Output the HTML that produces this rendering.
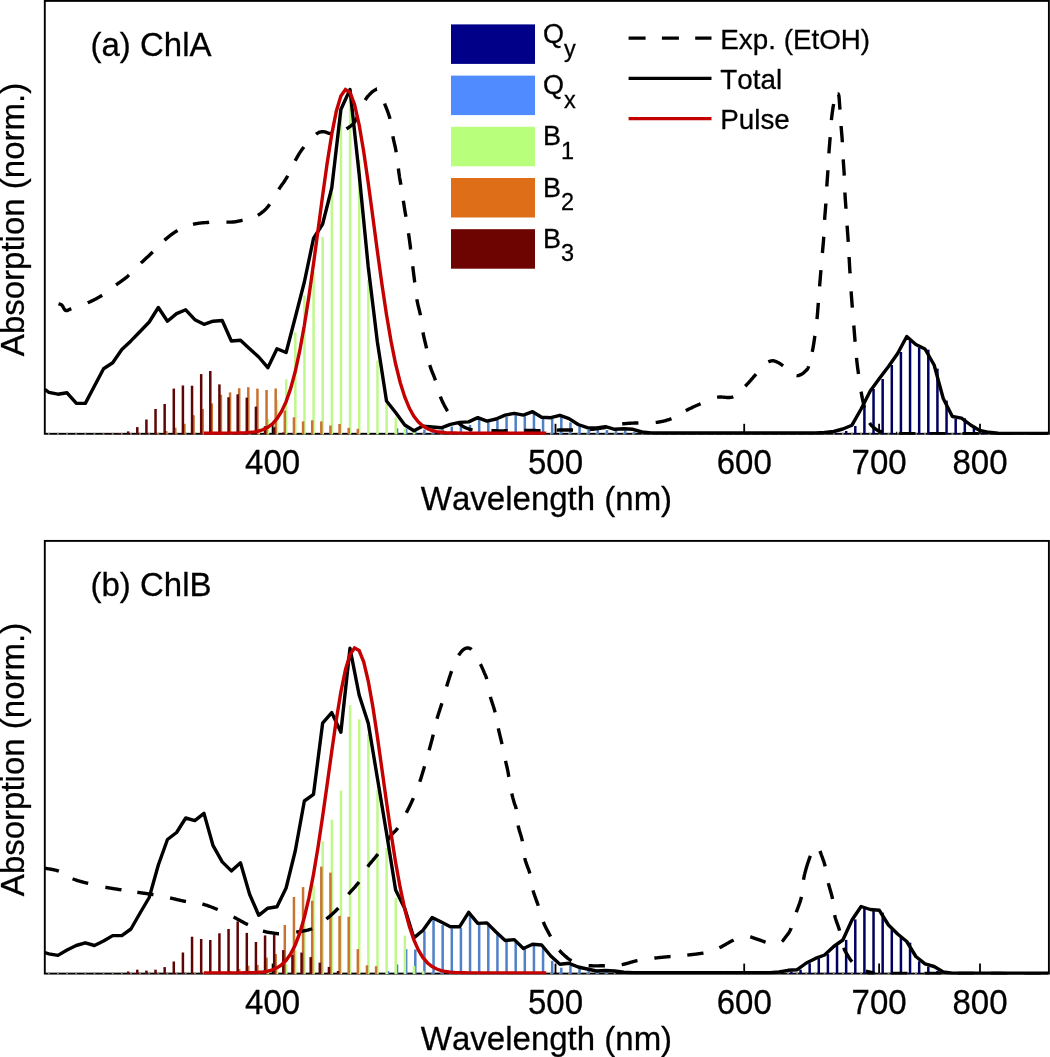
<!DOCTYPE html>
<html><head><meta charset="utf-8"><style>
html,body{margin:0;padding:0;background:#fff;}
svg{display:block;}
text{font-family:"Liberation Sans",sans-serif;fill:#000;font-kerning:none;stroke:#000;stroke-width:0.28px;}
svg{will-change:transform;}
</style></head><body>
<svg width="1050" height="1057" viewBox="0 0 1050 1057">
<defs><filter id="soft" x="0" y="0" width="1050" height="1057" filterUnits="userSpaceOnUse"><feGaussianBlur stdDeviation="0"/></filter></defs>
<rect width="1050" height="1057" fill="#fff"/>
<g>
<clipPath id="c0"><rect x="44.8" y="0.9" width="1003.2" height="433.9"/></clipPath>
<rect x="44.8" y="0.9" width="1004.1" height="432.9" fill="none" stroke="#000" stroke-width="1.9"/>
<g fill="#8a8478"><rect x="47.91" y="432.8" width="1.8" height="2"/><rect x="57.04" y="432.8" width="1.8" height="2"/><rect x="66.16" y="432.8" width="1.8" height="2"/><rect x="75.29" y="432.8" width="1.8" height="2"/><rect x="84.42" y="432.8" width="1.8" height="2"/><rect x="93.54" y="432.8" width="1.8" height="2"/><rect x="102.67" y="432.8" width="1.8" height="2"/><rect x="111.8" y="432.8" width="1.8" height="2"/><rect x="120.92" y="432.8" width="1.8" height="2"/><rect x="130.05" y="432.8" width="1.8" height="2"/><rect x="139.18" y="432.8" width="1.8" height="2"/><rect x="148.31" y="432.8" width="1.8" height="2"/><rect x="157.43" y="432.8" width="1.8" height="2"/><rect x="166.56" y="432.8" width="1.8" height="2"/><rect x="175.69" y="432.8" width="1.8" height="2"/><rect x="184.81" y="432.8" width="1.8" height="2"/><rect x="193.94" y="432.8" width="1.8" height="2"/><rect x="203.07" y="432.8" width="1.8" height="2"/><rect x="212.19" y="432.8" width="1.8" height="2"/><rect x="221.32" y="432.8" width="1.8" height="2"/><rect x="230.45" y="432.8" width="1.8" height="2"/><rect x="239.58" y="432.8" width="1.8" height="2"/><rect x="248.7" y="432.8" width="1.8" height="2"/><rect x="257.83" y="432.8" width="1.8" height="2"/><rect x="266.96" y="432.8" width="1.8" height="2"/><rect x="276.08" y="432.8" width="1.8" height="2"/><rect x="285.21" y="432.8" width="1.8" height="2"/><rect x="294.34" y="432.8" width="1.8" height="2"/><rect x="303.46" y="432.8" width="1.8" height="2"/><rect x="312.59" y="432.8" width="1.8" height="2"/><rect x="321.72" y="432.8" width="1.8" height="2"/><rect x="330.85" y="432.8" width="1.8" height="2"/><rect x="339.97" y="432.8" width="1.8" height="2"/><rect x="349.1" y="432.8" width="1.8" height="2"/><rect x="358.23" y="432.8" width="1.8" height="2"/><rect x="367.35" y="432.8" width="1.8" height="2"/><rect x="376.48" y="432.8" width="1.8" height="2"/><rect x="385.61" y="432.8" width="1.8" height="2"/><rect x="394.73" y="432.8" width="1.8" height="2"/><rect x="403.86" y="432.8" width="1.8" height="2"/><rect x="412.99" y="432.8" width="1.8" height="2"/><rect x="422.12" y="432.8" width="1.8" height="2"/><rect x="431.24" y="432.8" width="1.8" height="2"/><rect x="440.37" y="432.8" width="1.8" height="2"/><rect x="449.5" y="432.8" width="1.8" height="2"/><rect x="458.62" y="432.8" width="1.8" height="2"/><rect x="467.75" y="432.8" width="1.8" height="2"/><rect x="476.88" y="432.8" width="1.8" height="2"/><rect x="486" y="432.8" width="1.8" height="2"/><rect x="495.13" y="432.8" width="1.8" height="2"/><rect x="504.26" y="432.8" width="1.8" height="2"/><rect x="513.39" y="432.8" width="1.8" height="2"/><rect x="522.51" y="432.8" width="1.8" height="2"/><rect x="531.64" y="432.8" width="1.8" height="2"/><rect x="540.77" y="432.8" width="1.8" height="2"/><rect x="549.89" y="432.8" width="1.8" height="2"/><rect x="559.02" y="432.8" width="1.8" height="2"/><rect x="568.15" y="432.8" width="1.8" height="2"/><rect x="577.27" y="432.8" width="1.8" height="2"/><rect x="586.4" y="432.8" width="1.8" height="2"/><rect x="595.53" y="432.8" width="1.8" height="2"/><rect x="604.66" y="432.8" width="1.8" height="2"/><rect x="613.78" y="432.8" width="1.8" height="2"/><rect x="622.91" y="432.8" width="1.8" height="2"/><rect x="632.04" y="432.8" width="1.8" height="2"/><rect x="641.16" y="432.8" width="1.8" height="2"/><rect x="650.29" y="432.8" width="1.8" height="2"/><rect x="659.42" y="432.8" width="1.8" height="2"/><rect x="668.54" y="432.8" width="1.8" height="2"/><rect x="677.67" y="432.8" width="1.8" height="2"/><rect x="686.8" y="432.8" width="1.8" height="2"/><rect x="695.93" y="432.8" width="1.8" height="2"/><rect x="705.05" y="432.8" width="1.8" height="2"/><rect x="714.18" y="432.8" width="1.8" height="2"/><rect x="723.31" y="432.8" width="1.8" height="2"/><rect x="732.43" y="432.8" width="1.8" height="2"/><rect x="741.56" y="432.8" width="1.8" height="2"/><rect x="750.69" y="432.8" width="1.8" height="2"/><rect x="759.81" y="432.8" width="1.8" height="2"/><rect x="768.94" y="432.8" width="1.8" height="2"/><rect x="778.07" y="432.8" width="1.8" height="2"/><rect x="787.2" y="432.8" width="1.8" height="2"/><rect x="796.32" y="432.8" width="1.8" height="2"/><rect x="805.45" y="432.8" width="1.8" height="2"/><rect x="814.58" y="432.8" width="1.8" height="2"/><rect x="823.7" y="432.8" width="1.8" height="2"/><rect x="832.83" y="432.8" width="1.8" height="2"/><rect x="841.96" y="432.8" width="1.8" height="2"/><rect x="851.08" y="432.8" width="1.8" height="2"/><rect x="860.21" y="432.8" width="1.8" height="2"/><rect x="869.34" y="432.8" width="1.8" height="2"/><rect x="878.47" y="432.8" width="1.8" height="2"/><rect x="887.59" y="432.8" width="1.8" height="2"/><rect x="896.72" y="432.8" width="1.8" height="2"/><rect x="905.85" y="432.8" width="1.8" height="2"/><rect x="914.97" y="432.8" width="1.8" height="2"/><rect x="924.1" y="432.8" width="1.8" height="2"/><rect x="933.23" y="432.8" width="1.8" height="2"/><rect x="942.35" y="432.8" width="1.8" height="2"/><rect x="951.48" y="432.8" width="1.8" height="2"/><rect x="960.61" y="432.8" width="1.8" height="2"/><rect x="969.74" y="432.8" width="1.8" height="2"/><rect x="978.86" y="432.8" width="1.8" height="2"/><rect x="987.99" y="432.8" width="1.8" height="2"/><rect x="997.12" y="432.8" width="1.8" height="2"/><rect x="1006.24" y="432.8" width="1.8" height="2"/><rect x="1015.37" y="432.8" width="1.8" height="2"/><rect x="1024.5" y="432.8" width="1.8" height="2"/><rect x="1033.62" y="432.8" width="1.8" height="2"/><rect x="1042.75" y="432.8" width="1.8" height="2"/></g>
<line x1="272.6" y1="423.8" x2="272.6" y2="433.8" stroke="#000" stroke-width="1.8"/>
<text transform="translate(272.6,473.6) scale(1,1.05)" text-anchor="middle" font-size="33">400</text>
<line x1="555.5" y1="423.8" x2="555.5" y2="433.8" stroke="#000" stroke-width="1.8"/>
<text transform="translate(555.5,473.6) scale(1,1.05)" text-anchor="middle" font-size="33">500</text>
<line x1="744.2" y1="423.8" x2="744.2" y2="433.8" stroke="#000" stroke-width="1.8"/>
<text transform="translate(744.2,473.6) scale(1,1.05)" text-anchor="middle" font-size="33">600</text>
<line x1="879.1" y1="423.8" x2="879.1" y2="433.8" stroke="#000" stroke-width="1.8"/>
<text transform="translate(879.1,473.6) scale(1,1.05)" text-anchor="middle" font-size="33">700</text>
<line x1="980" y1="423.8" x2="980" y2="433.8" stroke="#000" stroke-width="1.8"/>
<text transform="translate(980,473.6) scale(1,1.05)" text-anchor="middle" font-size="33">800</text>
<g clip-path="url(#c0)">
<g fill="#000060"><rect x="835.78" y="433" width="2.5" height="1.3"/><rect x="844.91" y="431" width="2.5" height="3.3"/><rect x="854.03" y="426" width="2.5" height="8.3"/><rect x="863.16" y="406" width="2.5" height="28.3"/><rect x="872.29" y="389" width="2.5" height="45.3"/><rect x="881.41" y="379" width="2.5" height="55.3"/><rect x="890.54" y="365" width="2.5" height="69.3"/><rect x="899.67" y="352" width="2.5" height="82.3"/><rect x="908.8" y="340.6" width="2.5" height="93.7"/><rect x="917.92" y="347.4" width="2.5" height="86.9"/><rect x="927.05" y="349.7" width="2.5" height="84.6"/><rect x="936.18" y="368.6" width="2.5" height="65.7"/><rect x="945.3" y="400.6" width="2.5" height="33.7"/><rect x="954.43" y="418.9" width="2.5" height="15.4"/><rect x="963.56" y="418.3" width="2.5" height="16"/><rect x="972.69" y="428" width="2.5" height="6.3"/><rect x="981.81" y="432" width="2.5" height="2.3"/></g>
<g fill="#5080c8"><rect x="395.78" y="428.3" width="2.5" height="6"/><rect x="404.91" y="428.7" width="2.5" height="5.6"/><rect x="414.04" y="431" width="2.5" height="3.3"/><rect x="423.16" y="429.6" width="2.5" height="4.7"/><rect x="432.29" y="430" width="2.5" height="4.3"/><rect x="441.42" y="429.1" width="2.5" height="5.2"/><rect x="450.55" y="426.6" width="2.5" height="7.7"/><rect x="459.67" y="425.7" width="2.5" height="8.6"/><rect x="468.8" y="424.9" width="2.5" height="9.4"/><rect x="477.93" y="419.5" width="2.5" height="14.8"/><rect x="487.05" y="421.6" width="2.5" height="12.7"/><rect x="496.18" y="419.9" width="2.5" height="14.4"/><rect x="505.31" y="416.9" width="2.5" height="17.4"/><rect x="514.44" y="415.1" width="2.5" height="19.2"/><rect x="523.56" y="416.4" width="2.5" height="17.9"/><rect x="532.69" y="413.4" width="2.5" height="20.9"/><rect x="541.82" y="418.1" width="2.5" height="16.2"/><rect x="550.94" y="418.6" width="2.5" height="15.7"/><rect x="560.07" y="417.1" width="2.5" height="17.2"/><rect x="569.2" y="422.4" width="2.5" height="11.9"/><rect x="578.32" y="425.4" width="2.5" height="8.9"/><rect x="587.45" y="427.6" width="2.5" height="6.7"/><rect x="596.58" y="429.3" width="2.5" height="5"/><rect x="605.71" y="430.1" width="2.5" height="4.2"/><rect x="614.83" y="431" width="2.5" height="3.3"/><rect x="623.96" y="431" width="2.5" height="3.3"/><rect x="633.09" y="431.8" width="2.5" height="2.5"/><rect x="642.21" y="432.5" width="2.5" height="1.8"/></g>
<g fill="#c0f88c"><rect x="248.45" y="432.5" width="2.5" height="1.8"/><rect x="257.58" y="428" width="2.5" height="6.3"/><rect x="266.71" y="419" width="2.5" height="15.3"/><rect x="275.83" y="400" width="2.5" height="34.3"/><rect x="284.96" y="379.4" width="2.5" height="54.9"/><rect x="294.09" y="332.3" width="2.5" height="102"/><rect x="303.21" y="295.5" width="2.5" height="138.8"/><rect x="312.34" y="272" width="2.5" height="162.3"/><rect x="321.47" y="237" width="2.5" height="197.3"/><rect x="330.6" y="192.5" width="2.5" height="241.8"/><rect x="339.72" y="111" width="2.5" height="323.3"/><rect x="348.85" y="93" width="2.5" height="341.3"/><rect x="357.98" y="160" width="2.5" height="274.3"/><rect x="367.1" y="280" width="2.5" height="154.3"/><rect x="376.23" y="360.6" width="2.5" height="73.7"/><rect x="385.36" y="403.4" width="2.5" height="30.9"/><rect x="394.48" y="417.5" width="2.5" height="16.8"/><rect x="403.61" y="428.3" width="2.5" height="6"/><rect x="412.74" y="432" width="2.5" height="2.3"/></g>
<g fill="#c87332"><rect x="155.78" y="433" width="2.5" height="1.3"/><rect x="164.91" y="431" width="2.5" height="3.3"/><rect x="174.04" y="427.6" width="2.5" height="6.7"/><rect x="183.16" y="423.8" width="2.5" height="10.5"/><rect x="192.29" y="415.2" width="2.5" height="19.1"/><rect x="201.42" y="408.9" width="2.5" height="25.4"/><rect x="210.54" y="403.4" width="2.5" height="30.9"/><rect x="219.67" y="394.7" width="2.5" height="39.6"/><rect x="228.8" y="392.4" width="2.5" height="41.9"/><rect x="237.93" y="388.2" width="2.5" height="46.1"/><rect x="247.05" y="387.2" width="2.5" height="47.1"/><rect x="256.18" y="388.6" width="2.5" height="45.7"/><rect x="265.31" y="390" width="2.5" height="44.3"/><rect x="274.43" y="388.5" width="2.5" height="45.8"/><rect x="283.56" y="410.5" width="2.5" height="23.8"/><rect x="292.69" y="417.3" width="2.5" height="17"/><rect x="301.81" y="421.4" width="2.5" height="12.9"/><rect x="310.94" y="420.3" width="2.5" height="14"/><rect x="320.07" y="421.4" width="2.5" height="12.9"/><rect x="329.19" y="425.5" width="2.5" height="8.8"/><rect x="338.32" y="424" width="2.5" height="10.3"/><rect x="347.45" y="427.8" width="2.5" height="6.5"/><rect x="356.58" y="428.8" width="2.5" height="5.5"/></g>
<g fill="#5f0505"><rect x="108.65" y="433.5" width="2.5" height="0.8"/><rect x="117.77" y="433" width="2.5" height="1.3"/><rect x="126.9" y="431.4" width="2.5" height="2.9"/><rect x="136.03" y="427.1" width="2.5" height="7.2"/><rect x="145.16" y="419.5" width="2.5" height="14.8"/><rect x="154.28" y="409" width="2.5" height="25.3"/><rect x="163.41" y="404" width="2.5" height="30.3"/><rect x="172.54" y="388.6" width="2.5" height="45.7"/><rect x="181.66" y="385.5" width="2.5" height="48.8"/><rect x="190.79" y="385.7" width="2.5" height="48.6"/><rect x="199.92" y="374.1" width="2.5" height="60.2"/><rect x="209.04" y="371" width="2.5" height="63.3"/><rect x="218.17" y="384.4" width="2.5" height="49.9"/><rect x="227.3" y="397.3" width="2.5" height="37"/><rect x="236.43" y="394.3" width="2.5" height="40"/><rect x="245.55" y="397.6" width="2.5" height="36.7"/><rect x="254.68" y="406.6" width="2.5" height="27.7"/><rect x="263.81" y="426.2" width="2.5" height="8.1"/><rect x="272.93" y="427.2" width="2.5" height="7.1"/><rect x="282.06" y="432.5" width="2.5" height="1.8"/></g>
<path d="M58.5,303.8 L58.58,303.83 L58.66,303.86 L58.76,303.88 L58.86,303.91 L58.98,303.93 L59.1,303.96 L59.23,303.99 L59.36,304.02 L59.5,304.05 L59.65,304.09 L59.8,304.13 L59.96,304.17 L60.11,304.22 L60.28,304.27 L60.44,304.33 L60.6,304.39 L60.77,304.46 L60.94,304.54 L61.1,304.63 L61.27,304.72 L61.43,304.83 L61.59,304.94 L61.75,305.07 L61.9,305.2 L62.05,305.35 L62.2,305.53 L62.35,305.73 L62.5,305.94 L62.64,306.17 L62.79,306.42 L62.94,306.68 L63.09,306.95 L63.23,307.22 L63.38,307.5 L63.53,307.78 L63.69,308.06 L63.84,308.34 L64,308.61 L64.16,308.88 L64.33,309.13 L64.49,309.37 L64.67,309.6 L64.84,309.81 L65.02,309.99 L65.21,310.16 L65.4,310.3 L65.6,310.42 L65.8,310.5 L66,310.56 L66.19,310.6 L66.38,310.62 L66.56,310.63 L66.74,310.62 L66.92,310.6 L67.1,310.56 L67.28,310.51 L67.46,310.45 L67.65,310.37 L67.85,310.28 L68.05,310.19 L68.26,310.08 L68.49,309.97 L68.73,309.84 L68.99,309.71 L69.26,309.57 L69.55,309.43 L69.87,309.28 L70.2,309.13 L70.56,308.98 L70.95,308.82 L71.27,308.69M87.7,302.8 L88.33,302.52 L88.97,302.24 L89.6,301.96 L90.22,301.67 L90.85,301.38 L91.47,301.09 L92.1,300.79 L92.71,300.49 L93.33,300.19 L93.95,299.88 L94.56,299.58 L95.17,299.26 L95.78,298.95 L96.38,298.63 L96.98,298.3 L97.59,297.97 L98.18,297.64 L98.78,297.31 L99.37,296.97 L99.96,296.62 L100.55,296.27 L101.14,295.92 L101.72,295.56 L102.15,295.29M116.03,284.9 L116.57,284.51 L117.1,284.13 L117.62,283.75 L118.15,283.38 L118.68,283.01 L119.2,282.64 L119.72,282.27 L120.24,281.9 L120.76,281.54 L121.28,281.17 L121.8,280.81 L122.32,280.44 L122.83,280.06 L123.35,279.69 L123.87,279.31 L124.38,278.92 L124.9,278.53 L125.41,278.13 L125.93,277.72 L126.45,277.31 L126.96,276.88 L127.48,276.45 L128,276 L128.52,275.54 L129.03,275.08M140.91,263.1 L141.43,262.61 L141.94,262.12 L142.46,261.64 L142.97,261.16 L143.48,260.68 L143.99,260.2 L144.51,259.73 L145.02,259.26 L145.53,258.79 L146.04,258.31 L146.56,257.84 L147.07,257.37 L147.58,256.9 L148.09,256.43 L148.6,255.96 L149.12,255.49 L149.63,255.01 L150.14,254.53 L150.65,254.05 L151.16,253.57 L151.68,253.08 L152.19,252.59 L152.7,252.1 L152.83,251.98M164.48,240.26 L165,239.8 L165.52,239.35 L166.04,238.9 L166.56,238.46 L167.08,238.03 L167.59,237.6 L168.11,237.17 L168.62,236.75 L169.14,236.33 L169.66,235.92 L170.18,235.51 L170.7,235.11 L171.22,234.71 L171.74,234.32 L172.27,233.94 L172.8,233.56 L173.34,233.18 L173.88,232.81 L174.42,232.45 L174.97,232.09 L175.52,231.74 L176.08,231.4 L176.65,231.06 L177.22,230.73 L177.53,230.55M193,224.3 L193.67,224.14 L194.35,223.98 L195.05,223.84 L195.75,223.71 L196.46,223.58 L197.17,223.47 L197.89,223.36 L198.62,223.26 L199.35,223.17 L200.07,223.08 L200.8,223.01 L201.53,222.93 L202.26,222.86 L202.98,222.8 L203.69,222.74 L204.4,222.68 L205.11,222.63 L205.8,222.58 L206.48,222.53 L207.15,222.48 L207.81,222.44 L208.46,222.39 L209.09,222.35 L209.16,222.34M226.43,222.1 L226.92,222.11 L227.41,222.11 L227.89,222.11 L228.36,222.11 L228.83,222.11 L229.3,222.11 L229.76,222.11 L230.21,222.11 L230.65,222.1 L231.08,222.09 L231.51,222.08 L231.92,222.06 L232.33,222.05 L232.72,222.03 L233.1,222 L233.47,221.97 L233.81,221.94 L234.14,221.91 L234.46,221.88 L234.76,221.84 L235.05,221.8 L235.33,221.76 L235.6,221.72 L235.86,221.68 L236.12,221.63 L236.37,221.59 L236.62,221.54 L236.87,221.49 L237.12,221.43 L237.37,221.38 L237.63,221.32 L237.89,221.26 L238.16,221.2 L238.43,221.14 L238.72,221.08 L239.02,221.01 L239.33,220.94 L239.66,220.87 L240,220.8 L240.36,220.73 L240.73,220.65 L241.11,220.58 L241.5,220.5 L241.9,220.42 L242.31,220.34 L242.57,220.29M257.77,215.31 L258.14,215.09 L258.52,214.85 L258.9,214.6 L259.28,214.34 L259.66,214.08 L260.04,213.82 L260.43,213.56 L260.81,213.29 L261.19,213.01 L261.57,212.73 L261.96,212.44 L262.34,212.15 L262.73,211.84 L263.11,211.53 L263.5,211.21 L263.89,210.87 L264.28,210.52 L264.67,210.16 L265.07,209.79 L265.46,209.4 L265.86,209 L266.26,208.58 L266.66,208.14 L267.07,207.68 L267.48,207.21 L267.89,206.71 L268.3,206.2 L268.72,205.66 L269.14,205.08 L269.57,204.47 L269.66,204.35M278.8,189.4 L279.19,188.8 L279.57,188.22 L279.94,187.66 L280.31,187.12 L280.67,186.59 L281.03,186.07 L281.38,185.57 L281.73,185.07 L282.07,184.59 L282.41,184.1 L282.75,183.63 L283.08,183.15 L283.41,182.67 L283.75,182.2 L284.08,181.71 L284.41,181.23 L284.74,180.73 L285.07,180.23 L285.4,179.71 L285.74,179.18 L286.07,178.64 L286.41,178.08 L286.75,177.5 L287.1,176.9 L287.45,176.28 L287.72,175.77M295.15,160.73 L295.5,160.1 L295.84,159.49 L296.18,158.89 L296.51,158.3 L296.84,157.73 L297.16,157.16 L297.48,156.61 L297.8,156.06 L298.11,155.53 L298.43,154.99 L298.74,154.47 L299.06,153.95 L299.38,153.43 L299.71,152.92 L300.03,152.41 L300.37,151.9 L300.71,151.39 L301.06,150.87 L301.42,150.36 L301.79,149.85 L302.16,149.33 L302.55,148.8 L302.95,148.28 L303.37,147.74 L303.8,147.2 L303.94,147.03M316.07,134.24 L316.5,133.9 L316.91,133.6 L317.3,133.32 L317.68,133.08 L318.04,132.86 L318.39,132.67 L318.73,132.5 L319.05,132.35 L319.37,132.23 L319.68,132.13 L319.98,132.04 L320.27,131.97 L320.55,131.91 L320.83,131.87 L321.1,131.84 L321.37,131.82 L321.64,131.8 L321.91,131.8 L322.17,131.8 L322.44,131.8 L322.7,131.8 L322.97,131.8 L323.24,131.81 L323.52,131.81 L323.8,131.8 L324.08,131.8 L324.35,131.82 L324.62,131.85 L324.89,131.89 L325.15,131.95 L325.41,132.02 L325.66,132.1 L325.91,132.19 L326.17,132.28 L326.41,132.38 L326.66,132.48 L326.91,132.58 L327.16,132.69 L327.41,132.79 L327.66,132.89 L327.92,132.99 L328.18,133.09 L328.44,133.18 L328.7,133.26 L328.97,133.33 L329.24,133.39 L329.52,133.44 L329.81,133.48 L330.1,133.5 L330.4,133.51 L330.7,133.52 L331,133.52 L331.31,133.52 L331.47,133.52M346.46,128.91 L346.8,128.7 L347.14,128.49 L347.47,128.28 L347.8,128.07 L348.13,127.85 L348.46,127.64 L348.79,127.42 L349.11,127.2 L349.43,126.97 L349.75,126.74 L350.06,126.51 L350.38,126.27 L350.69,126.02 L351,125.77 L351.3,125.51 L351.6,125.25 L351.9,124.97 L352.2,124.69 L352.5,124.39 L352.79,124.09 L353.08,123.77 L353.36,123.45 L353.64,123.11 L353.92,122.76 L354.2,122.4 L354.47,122.02 L354.74,121.63 L355,121.22 L355.26,120.8 L355.51,120.36 L355.76,119.92 L356.01,119.46 L356.26,118.99 L356.5,118.51 L356.74,118.03 L356.97,117.53 L357.19,117.07M365.24,100.09 L365.47,99.68 L365.7,99.3 L365.93,98.93 L366.16,98.58 L366.39,98.23 L366.62,97.9 L366.85,97.58 L367.08,97.27 L367.31,96.97 L367.54,96.68 L367.77,96.4 L368,96.13 L368.22,95.86 L368.45,95.61 L368.67,95.36 L368.9,95.12 L369.12,94.88 L369.34,94.66 L369.55,94.43 L369.77,94.22 L369.98,94 L370.19,93.8 L370.4,93.59 L370.6,93.39 L370.8,93.19 L371,93 L371.19,92.81 L371.39,92.63 L371.58,92.45 L371.76,92.28 L371.95,92.12 L372.13,91.97 L372.31,91.82 L372.49,91.67 L372.66,91.54 L372.84,91.4 L373.01,91.28 L373.18,91.16 L373.35,91.04 L373.52,90.93 L373.68,90.82 L373.84,90.71 L374.01,90.61 L374.17,90.52 L374.33,90.42 L374.48,90.33 L374.64,90.25 L374.79,90.16 L374.95,90.08 L375.1,90 L375.25,89.92 L375.4,89.84 L375.54,89.76 L375.69,89.67 L375.83,89.59 L375.96,89.51 L376.1,89.44 L376.23,89.36 L376.37,89.29 L376.5,89.23 L376.63,89.17 L376.76,89.11 L376.88,89.06 L376.9,89.06M384.6,103.5 L384.78,104.01 L384.97,104.53 L385.16,105.06 L385.37,105.6 L385.58,106.15 L385.8,106.71 L386.02,107.28 L386.25,107.86 L386.48,108.45 L386.72,109.05 L386.96,109.65 L387.19,110.27 L387.43,110.89 L387.67,111.52 L387.9,112.16 L388.14,112.8 L388.37,113.46 L388.59,114.11 L388.81,114.78 L389.02,115.45 L389.23,116.13 L389.43,116.81 L389.62,117.5 L389.8,118.2 L389.96,118.88M392.87,136.29 L393,137 L393.13,137.68 L393.26,138.34 L393.39,138.98 L393.52,139.59 L393.65,140.19 L393.78,140.77 L393.91,141.33 L394.04,141.89 L394.17,142.44 L394.3,142.99 L394.43,143.54 L394.56,144.08 L394.68,144.63 L394.81,145.19 L394.94,145.75 L395.07,146.33 L395.2,146.92 L395.33,147.53 L395.46,148.16 L395.58,148.81 L395.71,149.49 L395.84,150.19 L395.97,150.93 L396.1,151.7 L396.19,152.25M398.37,168.59 L398.5,169.57 L398.62,170.54 L398.74,171.47 L398.86,172.36 L398.98,173.22 L399.09,174.03 L399.2,174.8 L399.31,175.52 L399.41,176.19 L399.5,176.81 L399.6,177.4 L399.68,177.95 L399.77,178.47 L399.85,178.97 L399.93,179.44 L400.01,179.89 L400.09,180.33 L400.17,180.76 L400.24,181.18 L400.32,181.6 L400.4,182.03 L400.48,182.46 L400.56,182.9 L400.64,183.35 L400.72,183.83 L400.81,184.32 L400.87,184.69M403.33,200.67 L403.47,201.61 L403.61,202.54 L403.75,203.45 L403.89,204.33 L404.02,205.19 L404.15,206.02 L404.27,206.82 L404.39,207.58 L404.5,208.3 L404.61,208.98 L404.71,209.61 L404.81,210.21 L404.9,210.78 L404.99,211.31 L405.08,211.82 L405.16,212.31 L405.24,212.78 L405.32,213.24 L405.4,213.68 L405.48,214.12 L405.56,214.55 L405.63,214.98 L405.71,215.42 L405.79,215.86 L405.87,216.32 L405.94,216.76M408.49,233.25 L408.63,234.18 L408.77,235.12 L408.9,236.06 L409.04,237.01 L409.17,237.96 L409.31,238.92 L409.44,239.88 L409.57,240.84 L409.7,241.8 L409.83,242.77 L409.96,243.77 L410.09,244.8 L410.23,245.84 L410.36,246.9 L410.5,247.98 L410.63,249.07 L410.68,249.4M412.72,266.28 L412.8,266.9 L412.91,267.76 L413.01,268.59 L413.11,269.4 L413.21,270.18 L413.3,270.94 L413.39,271.68 L413.48,272.4 L413.57,273.11 L413.66,273.8 L413.74,274.48 L413.82,275.15 L413.91,275.81 L413.99,276.47 L414.07,277.11 L414.15,277.76 L414.23,278.4 L414.31,279.04 L414.39,279.69 L414.47,280.34 L414.56,280.99 L414.64,281.65 L414.72,282.32 L414.74,282.45M416.88,299.32 L416.98,299.92 L417.1,300.6 L417.22,301.27 L417.35,301.93 L417.48,302.59 L417.62,303.23 L417.76,303.88 L417.91,304.52 L418.06,305.15 L418.21,305.78 L418.36,306.41 L418.52,307.04 L418.67,307.66 L418.83,308.29 L418.99,308.91 L419.15,309.54 L419.3,310.17 L419.46,310.8 L419.61,311.43 L419.76,312.07 L419.91,312.71 L420.06,313.35 L420.2,314 L420.34,314.66 L420.45,315.22M422.98,332.42 L423.1,333.1 L423.23,333.78 L423.36,334.44 L423.49,335.1 L423.63,335.76 L423.77,336.41 L423.91,337.05 L424.05,337.69 L424.2,338.33 L424.34,338.96 L424.49,339.59 L424.64,340.22 L424.79,340.85 L424.95,341.48 L425.1,342.11 L425.25,342.74 L425.4,343.37 L425.56,344.01 L425.71,344.65 L425.86,345.29 L426.01,345.94 L426.16,346.6 L426.31,347.26 L426.46,347.92 L426.54,348.32M429.83,365.05 L430,365.7 L430.18,366.33 L430.37,366.95 L430.56,367.55 L430.75,368.14 L430.95,368.72 L431.15,369.28 L431.36,369.84 L431.57,370.39 L431.78,370.93 L432,371.47 L432.22,372.01 L432.44,372.54 L432.66,373.08 L432.88,373.62 L433.11,374.16 L433.33,374.7 L433.55,375.25 L433.78,375.81 L434,376.38 L434.22,376.95 L434.45,377.54 L434.67,378.15 L434.88,378.77 L435.1,379.4 L435.31,380.05 L435.41,380.35M440.3,396.6 L440.55,397.24 L440.82,397.89 L441.08,398.53 L441.36,399.17 L441.64,399.8 L441.92,400.44 L442.21,401.06 L442.5,401.69 L442.79,402.3 L443.09,402.91 L443.39,403.51 L443.69,404.11 L443.99,404.69 L444.28,405.27 L444.58,405.83 L444.88,406.38 L445.17,406.92 L445.46,407.45 L445.75,407.96 L446.03,408.46 L446.31,408.95 L446.58,409.41 L446.84,409.87 L447.1,410.3 L447.35,410.71 L447.59,411.1 L447.62,411.14M458.21,422.66 L458.49,422.9 L458.77,423.14 L459.04,423.38 L459.3,423.6 L459.56,423.82 L459.81,424.02 L460.05,424.23 L460.29,424.42 L460.52,424.61 L460.75,424.8 L460.98,424.98 L461.2,425.15 L461.42,425.32 L461.64,425.49 L461.86,425.65 L462.08,425.81 L462.3,425.96 L462.52,426.11 L462.75,426.26 L462.98,426.4 L463.21,426.55 L463.45,426.69 L463.69,426.83 L463.94,426.96 L464.19,427.1 L464.45,427.23 L464.72,427.37 L465,427.5 L465.29,427.63 L465.58,427.76 L465.87,427.89 L466.18,428.02 L466.48,428.14 L466.79,428.27 L467.11,428.39 L467.43,428.5 L467.75,428.62 L468.07,428.73 L468.4,428.84 L468.74,428.95 L469.07,429.05 L469.41,429.16 L469.75,429.26 L470.1,429.35 L470.44,429.44 L470.79,429.53 L471.14,429.62 L471.49,429.7 L471.84,429.78 L472.19,429.86 L472.53,429.93M491.4,430.8 L491.93,430.8 L492.48,430.8 L493.05,430.81 L493.63,430.81 L494.23,430.81 L494.85,430.82 L495.47,430.82 L496.11,430.82 L496.76,430.82 L497.42,430.83 L498.09,430.83 L498.76,430.83 L499.44,430.83 L500.13,430.83 L500.83,430.83 L501.52,430.83 L502.22,430.83 L502.92,430.83 L503.62,430.83 L504.32,430.82 L505.02,430.82 L505.72,430.81 L506.41,430.81 L507.1,430.8 L507.7,430.79M524.3,430.4 L524.98,430.4 L525.66,430.4 L526.33,430.4 L526.99,430.41 L527.65,430.41 L528.31,430.42 L528.96,430.44 L529.61,430.45 L530.25,430.46 L530.9,430.48 L531.54,430.49 L532.18,430.51 L532.82,430.52 L533.46,430.54 L534.11,430.55 L534.75,430.56 L535.39,430.57 L536.04,430.59 L536.69,430.59 L537.34,430.6 L538,430.6 L538.66,430.61 L539.33,430.6 L540,430.6 L540.6,430.59M556.7,430.1 L557.39,430.09 L558.07,430.08 L558.75,430.07 L559.43,430.06 L560.11,430.06 L560.79,430.06 L561.46,430.05 L562.14,430.05 L562.81,430.05 L563.48,430.05 L564.16,430.05 L564.83,430.05 L565.5,430.05 L566.18,430.05 L566.85,430.05 L567.53,430.05 L568.21,430.05 L568.89,430.04 L569.57,430.04 L570.25,430.04 L570.93,430.03 L571.62,430.02 L572.31,430.01 L573,430M589.99,429.5 L590,429.5 L590.66,429.45 L591.31,429.39 L591.95,429.33 L592.58,429.27 L593.21,429.21 L593.82,429.14 L594.43,429.07 L595.04,429 L595.64,428.93 L596.24,428.85 L596.84,428.78 L597.44,428.69 L598.04,428.61 L598.65,428.52 L599.25,428.43 L599.86,428.34 L600.47,428.25 L601.09,428.15 L601.72,428.05 L602.36,427.94 L603,427.84 L603.65,427.73 L604.32,427.62 L605,427.5 L605.69,427.38 L606.13,427.3M622.19,424 L622.9,423.9 L623.6,423.81 L624.28,423.72 L624.96,423.65 L625.63,423.58 L626.29,423.51 L626.95,423.45 L627.6,423.4 L628.24,423.35 L628.89,423.31 L629.53,423.27 L630.16,423.23 L630.8,423.2 L631.44,423.17 L632.07,423.14 L632.71,423.12 L633.34,423.09 L633.98,423.07 L634.63,423.05 L635.28,423.02 L635.93,423 L636.59,422.98 L637.25,422.95 L637.92,422.93 L638.45,422.91M655.7,422.5 L656.38,422.41 L657.06,422.31 L657.73,422.21 L658.4,422.11 L659.06,422 L659.72,421.88 L660.38,421.76 L661.04,421.63 L661.69,421.5 L662.34,421.36 L662.99,421.22 L663.64,421.06 L664.28,420.9 L664.93,420.74 L665.57,420.56 L666.22,420.38 L666.86,420.19 L667.51,419.99 L668.15,419.78 L668.8,419.56 L669.45,419.34 L670.1,419.1 L670.75,418.86 L671.4,418.6 L671.47,418.57M685.84,410.66 L686.47,410.32 L687.1,410 L687.72,409.69 L688.34,409.38 L688.94,409.08 L689.55,408.78 L690.15,408.49 L690.74,408.2 L691.33,407.91 L691.92,407.63 L692.5,407.36 L693.09,407.08 L693.67,406.81 L694.25,406.54 L694.83,406.28 L695.41,406.01 L696,405.75 L696.58,405.49 L697.17,405.23 L697.76,404.97 L698.35,404.71 L698.95,404.45 L699.56,404.19 L700.16,403.93 L700.59,403.74M717.1,397.3 L717.76,397.18 L718.42,397.1 L719.09,397.04 L719.76,397.02 L720.44,397.01 L721.11,397.03 L721.79,397.06 L722.47,397.11 L723.15,397.17 L723.83,397.23 L724.51,397.3 L725.18,397.36 L725.85,397.42 L726.52,397.48 L727.19,397.52 L727.85,397.54 L728.51,397.55 L729.16,397.54 L729.8,397.5 L730.44,397.43 L731.07,397.33 L731.69,397.19 L732.3,397.02 L732.9,396.8 L733.24,396.65M745.2,386.2 L745.7,385.7 L746.2,385.2 L746.71,384.68 L747.22,384.15 L747.72,383.62 L748.23,383.08 L748.73,382.53 L749.23,381.97 L749.73,381.41 L750.23,380.85 L750.73,380.29 L751.22,379.73 L751.71,379.16 L752.19,378.6 L752.67,378.04 L753.14,377.49 L753.61,376.94 L754.07,376.4 L754.53,375.87 L754.98,375.34 L755.42,374.83 L755.85,374.32 L756.07,374.07M768.33,361.87 L768.62,361.74 L768.91,361.61 L769.2,361.5 L769.49,361.39 L769.77,361.29 L770.06,361.2 L770.34,361.12 L770.62,361.05 L770.9,360.98 L771.18,360.93 L771.45,360.88 L771.73,360.83 L772,360.8 L772.27,360.78 L772.54,360.77 L772.81,360.77 L773.07,360.78 L773.33,360.81 L773.6,360.85 L773.86,360.89 L774.11,360.95 L774.37,361.01 L774.63,361.09 L774.88,361.16 L775.13,361.25 L775.38,361.34 L775.63,361.44 L775.87,361.54 L776.12,361.64 L776.36,361.75 L776.6,361.85 L776.84,361.96 L777.08,362.07 L777.31,362.18 L777.54,362.29 L777.77,362.4 L778,362.5 L778.22,362.6 L778.44,362.71 L778.65,362.81 L778.85,362.92 L779.05,363.02 L779.25,363.13 L779.44,363.25 L779.63,363.36 L779.82,363.48 L780.01,363.6 L780.19,363.72 L780.38,363.84 L780.57,363.97 L780.76,364.11 L780.95,364.24 L781.14,364.39 L781.34,364.53 L781.55,364.68 L781.75,364.84 L781.97,365 L782.19,365.17 L782.42,365.34 L782.65,365.52 L782.9,365.7 L783.11,365.86M796.53,375.56 L796.75,375.6 L796.97,375.63 L797.18,375.65 L797.4,375.65 L797.6,375.65 L797.81,375.63 L798.01,375.61 L798.21,375.58 L798.41,375.54 L798.6,375.49 L798.79,375.44 L798.98,375.38 L799.17,375.31 L799.36,375.24 L799.54,375.17 L799.73,375.09 L799.91,375.01 L800.09,374.92 L800.28,374.84 L800.46,374.75 L800.64,374.67 L800.82,374.58 L801,374.5 L801.18,374.41 L801.36,374.33 L801.54,374.23 L801.71,374.14 L801.89,374.04 L802.06,373.94 L802.23,373.83 L802.4,373.72 L802.57,373.61 L802.74,373.49 L802.9,373.37 L803.07,373.25 L803.23,373.12 L803.4,372.99 L803.56,372.86 L803.72,372.72 L803.88,372.58 L804.04,372.44 L804.2,372.29 L804.36,372.14 L804.52,371.98 L804.68,371.83 L804.84,371.66 L805,371.5 L805.16,371.34 L805.31,371.19 L805.47,371.05 L805.62,370.91 L805.77,370.78 L805.92,370.65 L806.07,370.52 L806.22,370.39 L806.37,370.25 L806.51,370.11 L806.66,369.96 L806.81,369.81 L806.95,369.64 L807.1,369.46 L807.25,369.26 L807.39,369.05 L807.54,368.82 L807.69,368.56 L807.84,368.29 L807.99,367.99 L808.14,367.66 L808.29,367.3 L808.44,366.92 L808.6,366.5 L808.7,366.21M812.22,351.95 L812.36,351.27 L812.5,350.6 L812.63,349.94 L812.76,349.29 L812.88,348.64 L813,347.98 L813.12,347.33 L813.24,346.68 L813.35,346.03 L813.46,345.39 L813.56,344.74 L813.67,344.09 L813.77,343.44 L813.87,342.79 L813.97,342.15 L814.06,341.5 L814.16,340.85 L814.26,340.2 L814.35,339.56 L814.44,338.91 L814.54,338.26 L814.63,337.61 L814.72,336.96 L814.81,336.31 L814.88,335.87M817,319.2 L817.1,318.13 L817.2,316.99 L817.3,315.79 L817.41,314.54 L817.52,313.24 L817.63,311.89 L817.74,310.51 L817.85,309.08 L817.96,307.63 L818.08,306.14 L818.19,304.64 L818.31,303.11 L818.32,302.95M819.59,286.4 L819.7,285 L819.81,283.61 L819.93,282.2 L820.05,280.78 L820.17,279.35 L820.29,277.9 L820.41,276.45 L820.53,275 L820.65,273.55 L820.77,272.1 L820.9,270.67 L820.94,270.15M822.4,253 L822.48,252.05 L822.56,251.15 L822.63,250.31 L822.7,249.51 L822.77,248.77 L822.83,248.06 L822.89,247.39 L822.95,246.76 L823.01,246.15 L823.06,245.57 L823.11,245.01 L823.16,244.47 L823.21,243.94 L823.26,243.41 L823.3,242.89 L823.35,242.37 L823.39,241.85 L823.44,241.32 L823.48,240.77 L823.52,240.21 L823.57,239.62 L823.61,239.01 L823.65,238.37 L823.7,237.7 L823.74,237 L823.76,236.76M824.6,219.8 L824.64,219.11 L824.69,218.44 L824.74,217.77 L824.78,217.12 L824.83,216.47 L824.88,215.83 L824.93,215.2 L824.99,214.57 L825.04,213.95 L825.09,213.33 L825.14,212.72 L825.19,212.1 L825.25,211.48 L825.3,210.87 L825.35,210.25 L825.4,209.63 L825.46,209 L825.51,208.37 L825.56,207.73 L825.61,207.08 L825.66,206.43 L825.71,205.76 L825.75,205.09 L825.8,204.4 L825.85,203.7 L825.85,203.55M826.8,186.5 L826.84,185.83 L826.88,185.19 L826.92,184.55 L826.97,183.94 L827.01,183.33 L827.05,182.73 L827.09,182.15 L827.13,181.57 L827.17,181 L827.21,180.43 L827.25,179.86 L827.29,179.3 L827.33,178.73 L827.38,178.17 L827.42,177.6 L827.46,177.02 L827.5,176.43 L827.54,175.84 L827.59,175.24 L827.63,174.62 L827.67,173.99 L827.71,173.34 L827.76,172.68 L827.8,172 L827.84,171.3 L827.89,170.58 L827.91,170.24M828.9,153.3 L828.95,152.6 L829,151.91 L829.04,151.24 L829.09,150.58 L829.14,149.94 L829.19,149.3 L829.24,148.67 L829.29,148.04 L829.34,147.43 L829.39,146.82 L829.44,146.21 L829.49,145.6 L829.54,144.99 L829.59,144.39 L829.64,143.78 L829.69,143.17 L829.74,142.55 L829.79,141.93 L829.84,141.3 L829.89,140.66 L829.94,140.01 L830,139.36 L830.05,138.68 L830.1,138 L830.15,137.3 L830.17,137.05M831.4,120.1 L831.47,119.4 L831.55,118.7 L831.62,118 L831.7,117.29 L831.79,116.59 L831.87,115.88 L831.96,115.18 L832.04,114.48 L832.13,113.78 L832.22,113.09 L832.31,112.41 L832.41,111.73 L832.5,111.06 L832.59,110.41 L832.68,109.76 L832.78,109.13 L832.87,108.52 L832.96,107.91 L833.06,107.33 L833.15,106.76 L833.24,106.22 L833.33,105.69 L833.41,105.18 L833.5,104.7 L833.59,104.24 L833.64,103.96M837.76,93.9 L837.83,93.89 L837.9,93.88 L837.97,93.89 L838.04,93.91 L838.11,93.94 L838.18,93.98 L838.25,94.04 L838.31,94.12 L838.38,94.21 L838.44,94.33 L838.51,94.46 L838.57,94.62 L838.63,94.8 L838.69,95.01 L838.74,95.24 L838.8,95.5 L838.85,95.79 L838.9,96.09 L838.95,96.43 L839,96.78 L839.04,97.15 L839.09,97.55 L839.13,97.97 L839.17,98.4 L839.21,98.85 L839.24,99.32 L839.28,99.81 L839.32,100.31 L839.36,100.83 L839.39,101.36 L839.43,101.91 L839.47,102.47 L839.5,103.04 L839.54,103.62 L839.58,104.21 L839.62,104.81 L839.66,105.42 L839.71,106.04 L839.75,106.67 L839.8,107.3 L839.85,107.95 L839.9,108.63 L839.95,109.33 L839.97,109.64M841.1,126 L841.15,126.7 L841.2,127.39 L841.26,128.07 L841.31,128.73 L841.36,129.38 L841.41,130.02 L841.47,130.66 L841.52,131.29 L841.57,131.91 L841.62,132.52 L841.67,133.14 L841.73,133.75 L841.78,134.36 L841.83,134.97 L841.88,135.59 L841.93,136.2 L841.97,136.82 L842.02,137.45 L842.07,138.09 L842.12,138.73 L842.17,139.38 L842.21,140.04 L842.26,140.71 L842.3,141.4 L842.34,142.1 L842.35,142.25M843.2,159.3 L843.24,159.99 L843.28,160.66 L843.32,161.32 L843.36,161.97 L843.41,162.61 L843.45,163.25 L843.49,163.87 L843.54,164.5 L843.58,165.11 L843.62,165.73 L843.67,166.34 L843.71,166.95 L843.76,167.56 L843.8,168.17 L843.84,168.79 L843.89,169.4 L843.93,170.03 L843.97,170.65 L844.01,171.29 L844.05,171.93 L844.09,172.58 L844.13,173.24 L844.16,173.91 L844.2,174.6 L844.23,175.3 L844.25,175.57M844.9,192.5 L844.94,193.19 L844.97,193.86 L845.01,194.52 L845.05,195.17 L845.09,195.81 L845.12,196.45 L845.16,197.07 L845.2,197.7 L845.24,198.31 L845.29,198.93 L845.33,199.54 L845.37,200.15 L845.41,200.76 L845.45,201.37 L845.5,201.99 L845.54,202.6 L845.58,203.23 L845.63,203.85 L845.67,204.49 L845.72,205.13 L845.76,205.78 L845.81,206.44 L845.85,207.11 L845.9,207.8 L845.95,208.5 L845.96,208.76M847.1,225.7 L847.15,226.39 L847.2,227.06 L847.24,227.73 L847.29,228.38 L847.34,229.03 L847.38,229.67 L847.43,230.3 L847.48,230.93 L847.52,231.55 L847.57,232.17 L847.62,232.78 L847.66,233.4 L847.71,234.02 L847.75,234.63 L847.8,235.25 L847.84,235.87 L847.89,236.5 L847.93,237.13 L847.98,237.77 L848.02,238.42 L848.07,239.07 L848.11,239.74 L848.16,240.41 L848.2,241.1 L848.24,241.79 L848.25,241.96M849.09,257 L849.14,257.98 L849.2,259 L849.26,260.07 L849.32,261.18 L849.39,262.34 L849.46,263.53 L849.52,264.76 L849.59,266.02 L849.66,267.31 L849.74,268.63 L849.81,269.97 L849.89,271.34 L849.96,272.73 L850,273.27M851.1,291.3 L851.2,292.69 L851.3,294.09 L851.4,295.5 L851.5,296.91 L851.61,298.33 L851.72,299.76 L851.83,301.19 L851.94,302.63 L852.05,304.07 L852.17,305.51 L852.28,306.96 L852.33,307.55M853.8,325.5 L853.91,326.9 L854.03,328.31 L854.14,329.74 L854.26,331.18 L854.37,332.63 L854.49,334.09 L854.61,335.54 L854.73,337 L854.84,338.46 L854.96,339.91 L855.08,341.35 L855.11,341.75M856.5,357.8 L856.6,358.78 L856.69,359.71 L856.78,360.59 L856.87,361.42 L856.95,362.21 L857.04,362.96 L857.12,363.68 L857.2,364.36 L857.28,365.02 L857.36,365.65 L857.44,366.26 L857.51,366.86 L857.59,367.44 L857.67,368.01 L857.74,368.57 L857.82,369.14 L857.9,369.7 L857.98,370.27 L858.06,370.85 L858.15,371.44 L858.23,372.05 L858.32,372.67 L858.41,373.32 L858.5,373.98M861.1,391.61 L861.21,392.2 L861.31,392.78 L861.41,393.36 L861.51,393.92 L861.61,394.46 L861.71,395.01 L861.81,395.54 L861.92,396.06 L862.02,396.58 L862.12,397.09 L862.22,397.59 L862.32,398.09 L862.42,398.59 L862.53,399.08 L862.63,399.57 L862.73,400.06 L862.84,400.55 L862.95,401.04 L863.05,401.53 L863.16,402.02 L863.27,402.51 L863.39,403 L863.5,403.5 L863.62,404 L863.73,404.5 L863.85,405.01 L863.97,405.51 L864.08,406.01 L864.2,406.52 L864.32,407.02 L864.44,407.52 L864.45,407.56M869.65,422.92 L869.83,423.22 L870,423.5 L870.18,423.78 L870.36,424.05 L870.55,424.31 L870.75,424.56 L870.94,424.81 L871.14,425.05 L871.35,425.28 L871.56,425.51 L871.77,425.73 L871.98,425.94 L872.19,426.15 L872.41,426.36 L872.62,426.56 L872.84,426.75 L873.06,426.94 L873.28,427.13 L873.5,427.31 L873.71,427.49 L873.93,427.66 L874.15,427.83 L874.36,428 L874.58,428.17 L874.79,428.34 L875,428.5 L875.2,428.66 L875.4,428.81 L875.59,428.96 L875.78,429.11 L875.96,429.25 L876.13,429.38 L876.31,429.51 L876.48,429.64 L876.66,429.76 L876.83,429.88 L877.01,429.99 L877.19,430.11 L877.37,430.22 L877.56,430.32 L877.76,430.43 L877.96,430.53 L878.18,430.63 L878.4,430.73 L878.63,430.83 L878.88,430.92 L879.14,431.02 L879.41,431.11 L879.7,431.21 L880,431.3 L880.32,431.39 L880.64,431.48 L880.98,431.57 L881.32,431.66 L881.67,431.74 L882.03,431.83 L882.4,431.91 L882.65,431.96M896.15,433.55 L896.87,433.55 L897.18,433.55M899.18,433.57 L901.88,433.58 L905,433.6 L908.67,433.62 L912.99,433.63 L915.48,433.64M929.21,433.67 L935.51,433.68 L942.15,433.69 L945.51,433.7M962.51,433.72 L963.54,433.72 L970.97,433.73 L978.44,433.74 L978.81,433.74M995.81,433.75 L1000.53,433.76 L1007.59,433.76 L1012.11,433.77M1029.11,433.78 L1032.72,433.78 L1037.92,433.79 L1042.58,433.79 L1045.41,433.79" fill="none" stroke="#000" stroke-width="3.4"/>
<path d="M44.8,389.3 L48.81,392.3 L57.94,394.2 L67.06,392.8 L76.19,403.2 L85.32,403.4 L94.44,386 L103.57,368.7 L112.7,362.8 L121.82,349.5 L130.95,340.9 L140.08,331.5 L149.21,322 L158.33,307.5 L167.46,321.2 L176.59,313.6 L185.71,309.8 L194.84,319.7 L203.97,324.3 L213.09,321.2 L222.22,320.5 L231.35,341 L240.48,340.3 L249.6,348.7 L258.73,357 L267.86,367.7 L276.98,348.7 L286.11,352.5 L295.24,317.5 L304.36,282 L313.49,238.5 L322.62,224 L331.75,188 L340.87,109.5 L350,89.5 L359.13,174 L368.25,267 L377.38,342 L386.51,401 L395.63,412.5 L404.76,425 L413.89,430.8 L423.01,426.1 L432.14,427 L441.27,427.8 L450.4,424.4 L459.52,422.4 L468.65,421.9 L477.78,417.6 L486.9,421.1 L496.03,419 L505.16,415.1 L514.29,413.4 L523.41,415.1 L532.54,411.7 L541.67,417.3 L550.79,417.7 L559.92,415.3 L569.05,418.6 L578.17,424.5 L587.3,427.6 L596.43,428 L605.56,426.7 L614.68,429.3 L623.81,428.8 L632.94,429.3 L642.06,432 L651.19,432.9 L660.32,433 L669.44,433 L678.57,433 L687.7,433 L696.83,433 L705.95,433 L715.08,433 L724.21,433 L733.33,433 L742.46,433 L751.59,433 L760.71,433 L769.84,433 L778.97,433 L788.1,433 L797.22,433 L806.35,433 L815.48,433 L824.6,432.5 L833.73,431.5 L842.86,429 L851.98,425.2 L861.11,409 L870.24,391 L879.37,378.5 L888.49,366.5 L897.62,353.5 L906.75,336.5 L915.87,344.5 L925,349 L934.13,365 L943.25,398.5 L952.38,416.5 L961.51,418.2 L970.64,425 L979.76,430.5 L988.89,432.3 L998.02,433.3 L1007.14,433.5 L1016.27,433.5 L1025.4,433.5 L1034.52,433.5 L1043.65,433.5 L1052.78,433.5 L1061.91,433.5" fill="none" stroke="#000" stroke-width="3.4" stroke-linejoin="round"/>
<path d="M203.97,433.2 L208.53,433.2 L213.09,433.2 L217.66,433.19 L222.22,433.19 L226.78,433.17 L231.35,433.14 L235.91,433.09 L240.48,432.99 L245.04,432.8 L249.6,432.47 L254.17,431.92 L258.73,431 L263.29,429.53 L267.86,427.23 L272.42,423.77 L276.98,418.69 L281.55,411.49 L286.11,401.59 L290.67,388.42 L295.24,371.49 L299.8,350.46 L304.36,325.26 L308.93,296.2 L313.49,264.02 L318.05,229.94 L322.62,195.6 L327.18,162.97 L331.75,134.18 L336.31,111.28 L340.87,96.01 L345.44,89.57 L350,92.48 L354.56,104.52 L359.13,124.71 L363.69,151.5 L368.25,182.92 L372.82,216.86 L377.38,251.25 L381.94,284.32 L386.51,314.68 L391.07,341.4 L395.63,364.02 L400.2,382.48 L404.76,397.02 L409.32,408.09 L413.89,416.24 L418.45,422.06 L423.01,426.08 L427.58,428.77 L432.14,430.52 L436.71,431.62 L441.27,432.3 L445.83,432.7 L450.4,432.93 L454.96,433.06 L459.52,433.13 L464.09,433.16 L468.65,433.18 L473.21,433.19 L477.78,433.2 L482.34,433.2 L486.9,433.2 L491.47,433.2 L496.03,433.2 L500.59,433.2 L505.16,433.2 L509.72,433.2 L514.29,433.2 L518.85,433.2 L523.41,433.2 L527.98,433.2 L532.54,433.2 L537.1,433.2 L541.67,433.2 L546.23,433.2" fill="none" stroke="#c40000" stroke-width="3.4"/>
</g>
<text x="546.5" y="510" text-anchor="middle" font-size="33">Wavelength (nm)</text>
<text transform="translate(24.2,219.5) rotate(-90)" text-anchor="middle" font-size="33">Absorption (norm.)</text>
<text x="90.5" y="55.7" font-size="33">(a) ChlA</text>
<clipPath id="c1"><rect x="44.8" y="540.9" width="1003.2" height="433.7"/></clipPath>
<rect x="44.8" y="540.9" width="1004.1" height="432.7" fill="none" stroke="#000" stroke-width="1.9"/>
<g fill="#8a8478"><rect x="47.91" y="972.6" width="1.8" height="2"/><rect x="57.04" y="972.6" width="1.8" height="2"/><rect x="66.16" y="972.6" width="1.8" height="2"/><rect x="75.29" y="972.6" width="1.8" height="2"/><rect x="84.42" y="972.6" width="1.8" height="2"/><rect x="93.54" y="972.6" width="1.8" height="2"/><rect x="102.67" y="972.6" width="1.8" height="2"/><rect x="111.8" y="972.6" width="1.8" height="2"/><rect x="120.92" y="972.6" width="1.8" height="2"/><rect x="130.05" y="972.6" width="1.8" height="2"/><rect x="139.18" y="972.6" width="1.8" height="2"/><rect x="148.31" y="972.6" width="1.8" height="2"/><rect x="157.43" y="972.6" width="1.8" height="2"/><rect x="166.56" y="972.6" width="1.8" height="2"/><rect x="175.69" y="972.6" width="1.8" height="2"/><rect x="184.81" y="972.6" width="1.8" height="2"/><rect x="193.94" y="972.6" width="1.8" height="2"/><rect x="203.07" y="972.6" width="1.8" height="2"/><rect x="212.19" y="972.6" width="1.8" height="2"/><rect x="221.32" y="972.6" width="1.8" height="2"/><rect x="230.45" y="972.6" width="1.8" height="2"/><rect x="239.58" y="972.6" width="1.8" height="2"/><rect x="248.7" y="972.6" width="1.8" height="2"/><rect x="257.83" y="972.6" width="1.8" height="2"/><rect x="266.96" y="972.6" width="1.8" height="2"/><rect x="276.08" y="972.6" width="1.8" height="2"/><rect x="285.21" y="972.6" width="1.8" height="2"/><rect x="294.34" y="972.6" width="1.8" height="2"/><rect x="303.46" y="972.6" width="1.8" height="2"/><rect x="312.59" y="972.6" width="1.8" height="2"/><rect x="321.72" y="972.6" width="1.8" height="2"/><rect x="330.85" y="972.6" width="1.8" height="2"/><rect x="339.97" y="972.6" width="1.8" height="2"/><rect x="349.1" y="972.6" width="1.8" height="2"/><rect x="358.23" y="972.6" width="1.8" height="2"/><rect x="367.35" y="972.6" width="1.8" height="2"/><rect x="376.48" y="972.6" width="1.8" height="2"/><rect x="385.61" y="972.6" width="1.8" height="2"/><rect x="394.73" y="972.6" width="1.8" height="2"/><rect x="403.86" y="972.6" width="1.8" height="2"/><rect x="412.99" y="972.6" width="1.8" height="2"/><rect x="422.12" y="972.6" width="1.8" height="2"/><rect x="431.24" y="972.6" width="1.8" height="2"/><rect x="440.37" y="972.6" width="1.8" height="2"/><rect x="449.5" y="972.6" width="1.8" height="2"/><rect x="458.62" y="972.6" width="1.8" height="2"/><rect x="467.75" y="972.6" width="1.8" height="2"/><rect x="476.88" y="972.6" width="1.8" height="2"/><rect x="486" y="972.6" width="1.8" height="2"/><rect x="495.13" y="972.6" width="1.8" height="2"/><rect x="504.26" y="972.6" width="1.8" height="2"/><rect x="513.39" y="972.6" width="1.8" height="2"/><rect x="522.51" y="972.6" width="1.8" height="2"/><rect x="531.64" y="972.6" width="1.8" height="2"/><rect x="540.77" y="972.6" width="1.8" height="2"/><rect x="549.89" y="972.6" width="1.8" height="2"/><rect x="559.02" y="972.6" width="1.8" height="2"/><rect x="568.15" y="972.6" width="1.8" height="2"/><rect x="577.27" y="972.6" width="1.8" height="2"/><rect x="586.4" y="972.6" width="1.8" height="2"/><rect x="595.53" y="972.6" width="1.8" height="2"/><rect x="604.66" y="972.6" width="1.8" height="2"/><rect x="613.78" y="972.6" width="1.8" height="2"/><rect x="622.91" y="972.6" width="1.8" height="2"/><rect x="632.04" y="972.6" width="1.8" height="2"/><rect x="641.16" y="972.6" width="1.8" height="2"/><rect x="650.29" y="972.6" width="1.8" height="2"/><rect x="659.42" y="972.6" width="1.8" height="2"/><rect x="668.54" y="972.6" width="1.8" height="2"/><rect x="677.67" y="972.6" width="1.8" height="2"/><rect x="686.8" y="972.6" width="1.8" height="2"/><rect x="695.93" y="972.6" width="1.8" height="2"/><rect x="705.05" y="972.6" width="1.8" height="2"/><rect x="714.18" y="972.6" width="1.8" height="2"/><rect x="723.31" y="972.6" width="1.8" height="2"/><rect x="732.43" y="972.6" width="1.8" height="2"/><rect x="741.56" y="972.6" width="1.8" height="2"/><rect x="750.69" y="972.6" width="1.8" height="2"/><rect x="759.81" y="972.6" width="1.8" height="2"/><rect x="768.94" y="972.6" width="1.8" height="2"/><rect x="778.07" y="972.6" width="1.8" height="2"/><rect x="787.2" y="972.6" width="1.8" height="2"/><rect x="796.32" y="972.6" width="1.8" height="2"/><rect x="805.45" y="972.6" width="1.8" height="2"/><rect x="814.58" y="972.6" width="1.8" height="2"/><rect x="823.7" y="972.6" width="1.8" height="2"/><rect x="832.83" y="972.6" width="1.8" height="2"/><rect x="841.96" y="972.6" width="1.8" height="2"/><rect x="851.08" y="972.6" width="1.8" height="2"/><rect x="860.21" y="972.6" width="1.8" height="2"/><rect x="869.34" y="972.6" width="1.8" height="2"/><rect x="878.47" y="972.6" width="1.8" height="2"/><rect x="887.59" y="972.6" width="1.8" height="2"/><rect x="896.72" y="972.6" width="1.8" height="2"/><rect x="905.85" y="972.6" width="1.8" height="2"/><rect x="914.97" y="972.6" width="1.8" height="2"/><rect x="924.1" y="972.6" width="1.8" height="2"/><rect x="933.23" y="972.6" width="1.8" height="2"/><rect x="942.35" y="972.6" width="1.8" height="2"/><rect x="951.48" y="972.6" width="1.8" height="2"/><rect x="960.61" y="972.6" width="1.8" height="2"/><rect x="969.74" y="972.6" width="1.8" height="2"/><rect x="978.86" y="972.6" width="1.8" height="2"/><rect x="987.99" y="972.6" width="1.8" height="2"/><rect x="997.12" y="972.6" width="1.8" height="2"/><rect x="1006.24" y="972.6" width="1.8" height="2"/><rect x="1015.37" y="972.6" width="1.8" height="2"/><rect x="1024.5" y="972.6" width="1.8" height="2"/><rect x="1033.62" y="972.6" width="1.8" height="2"/><rect x="1042.75" y="972.6" width="1.8" height="2"/></g>
<line x1="272.6" y1="963.6" x2="272.6" y2="973.6" stroke="#000" stroke-width="1.8"/>
<text transform="translate(272.6,1013.6) scale(1,1.05)" text-anchor="middle" font-size="33">400</text>
<line x1="555.5" y1="963.6" x2="555.5" y2="973.6" stroke="#000" stroke-width="1.8"/>
<text transform="translate(555.5,1013.6) scale(1,1.05)" text-anchor="middle" font-size="33">500</text>
<line x1="744.2" y1="963.6" x2="744.2" y2="973.6" stroke="#000" stroke-width="1.8"/>
<text transform="translate(744.2,1013.6) scale(1,1.05)" text-anchor="middle" font-size="33">600</text>
<line x1="879.1" y1="963.6" x2="879.1" y2="973.6" stroke="#000" stroke-width="1.8"/>
<text transform="translate(879.1,1013.6) scale(1,1.05)" text-anchor="middle" font-size="33">700</text>
<line x1="980" y1="963.6" x2="980" y2="973.6" stroke="#000" stroke-width="1.8"/>
<text transform="translate(980,1013.6) scale(1,1.05)" text-anchor="middle" font-size="33">800</text>
<g clip-path="url(#c1)">
<g fill="#000060"><rect x="790.14" y="972" width="2.5" height="2.1"/><rect x="799.27" y="969.7" width="2.5" height="4.4"/><rect x="808.4" y="963.3" width="2.5" height="10.8"/><rect x="817.53" y="958.4" width="2.5" height="15.7"/><rect x="826.65" y="954.1" width="2.5" height="20"/><rect x="835.78" y="945.6" width="2.5" height="28.5"/><rect x="844.91" y="939.9" width="2.5" height="34.2"/><rect x="854.03" y="919.4" width="2.5" height="54.7"/><rect x="863.16" y="908" width="2.5" height="66.1"/><rect x="872.29" y="910.7" width="2.5" height="63.4"/><rect x="881.41" y="912.7" width="2.5" height="61.4"/><rect x="890.54" y="929.3" width="2.5" height="44.8"/><rect x="899.67" y="937.3" width="2.5" height="36.8"/><rect x="908.8" y="942.7" width="2.5" height="31.4"/><rect x="917.92" y="961.3" width="2.5" height="12.8"/><rect x="927.05" y="966.7" width="2.5" height="7.4"/><rect x="936.18" y="971" width="2.5" height="3.1"/></g>
<g fill="#5080c8"><rect x="386.66" y="971" width="2.5" height="3.1"/><rect x="395.78" y="964.4" width="2.5" height="9.7"/><rect x="404.91" y="949.1" width="2.5" height="25"/><rect x="414.04" y="949.5" width="2.5" height="24.6"/><rect x="423.16" y="931.1" width="2.5" height="43"/><rect x="432.29" y="920" width="2.5" height="54.1"/><rect x="441.42" y="925.1" width="2.5" height="49"/><rect x="450.55" y="928.5" width="2.5" height="45.6"/><rect x="459.67" y="927.7" width="2.5" height="46.4"/><rect x="468.8" y="915.7" width="2.5" height="58.4"/><rect x="477.93" y="924.3" width="2.5" height="49.8"/><rect x="487.05" y="926" width="2.5" height="48.1"/><rect x="496.18" y="934.5" width="2.5" height="39.6"/><rect x="505.31" y="941.3" width="2.5" height="32.8"/><rect x="514.44" y="940.4" width="2.5" height="33.7"/><rect x="523.56" y="948.9" width="2.5" height="25.2"/><rect x="532.69" y="945.5" width="2.5" height="28.6"/><rect x="541.82" y="946.4" width="2.5" height="27.7"/><rect x="550.94" y="960.9" width="2.5" height="13.2"/><rect x="560.07" y="967.7" width="2.5" height="6.4"/><rect x="569.2" y="966" width="2.5" height="8.1"/><rect x="578.32" y="969" width="2.5" height="5.1"/><rect x="587.45" y="970" width="2.5" height="4.1"/><rect x="596.58" y="971" width="2.5" height="3.1"/><rect x="605.71" y="971.5" width="2.5" height="2.6"/></g>
<g fill="#c0f88c"><rect x="266.71" y="971" width="2.5" height="3.1"/><rect x="275.83" y="968" width="2.5" height="6.1"/><rect x="284.96" y="964" width="2.5" height="10.1"/><rect x="294.09" y="950" width="2.5" height="24.1"/><rect x="303.21" y="923" width="2.5" height="51.1"/><rect x="312.34" y="885.5" width="2.5" height="88.6"/><rect x="321.47" y="841.2" width="2.5" height="132.9"/><rect x="330.6" y="819.7" width="2.5" height="154.4"/><rect x="339.72" y="790.6" width="2.5" height="183.5"/><rect x="348.85" y="705.1" width="2.5" height="269"/><rect x="357.98" y="719.4" width="2.5" height="254.7"/><rect x="367.1" y="733.8" width="2.5" height="240.3"/><rect x="376.23" y="790" width="2.5" height="184.1"/><rect x="385.36" y="848" width="2.5" height="126.1"/><rect x="394.48" y="897.9" width="2.5" height="76.2"/><rect x="403.61" y="935.6" width="2.5" height="38.5"/><rect x="412.74" y="966" width="2.5" height="8.1"/><rect x="421.87" y="971" width="2.5" height="3.1"/></g>
<g fill="#c87332"><rect x="228.8" y="971" width="2.5" height="3.1"/><rect x="237.93" y="969" width="2.5" height="5.1"/><rect x="247.05" y="965.7" width="2.5" height="8.4"/><rect x="256.18" y="964.9" width="2.5" height="9.2"/><rect x="265.31" y="957.6" width="2.5" height="16.5"/><rect x="274.43" y="954" width="2.5" height="20.1"/><rect x="283.56" y="925" width="2.5" height="49.1"/><rect x="292.69" y="897" width="2.5" height="77.1"/><rect x="301.81" y="887.1" width="2.5" height="87"/><rect x="310.94" y="900.7" width="2.5" height="73.4"/><rect x="320.07" y="866.6" width="2.5" height="107.5"/><rect x="329.19" y="872.6" width="2.5" height="101.5"/><rect x="338.32" y="915.9" width="2.5" height="58.2"/><rect x="347.45" y="916.8" width="2.5" height="57.3"/><rect x="356.58" y="949.1" width="2.5" height="25"/><rect x="365.7" y="965.3" width="2.5" height="8.8"/><rect x="374.83" y="966.2" width="2.5" height="7.9"/></g>
<g fill="#5f0505"><rect x="126.9" y="971.5" width="2.5" height="2.6"/><rect x="136.03" y="969.7" width="2.5" height="4.4"/><rect x="145.16" y="970.6" width="2.5" height="3.5"/><rect x="154.28" y="969.7" width="2.5" height="4.4"/><rect x="163.41" y="967.1" width="2.5" height="7"/><rect x="172.54" y="961.5" width="2.5" height="12.6"/><rect x="181.66" y="952.5" width="2.5" height="21.6"/><rect x="190.79" y="936.7" width="2.5" height="37.4"/><rect x="199.92" y="939" width="2.5" height="35.1"/><rect x="209.04" y="940" width="2.5" height="34.1"/><rect x="218.17" y="933.3" width="2.5" height="40.8"/><rect x="227.3" y="929" width="2.5" height="45.1"/><rect x="236.43" y="921.4" width="2.5" height="52.7"/><rect x="245.55" y="932.9" width="2.5" height="41.2"/><rect x="254.68" y="942" width="2.5" height="32.1"/><rect x="263.81" y="935.4" width="2.5" height="38.7"/><rect x="272.93" y="935" width="2.5" height="39.1"/><rect x="282.06" y="950.1" width="2.5" height="24"/><rect x="291.19" y="954.8" width="2.5" height="19.3"/><rect x="300.31" y="952.6" width="2.5" height="21.5"/><rect x="309.44" y="957.1" width="2.5" height="17"/><rect x="318.57" y="962.6" width="2.5" height="11.5"/><rect x="327.69" y="966.9" width="2.5" height="7.2"/><rect x="336.82" y="971" width="2.5" height="3.1"/></g>
<path d="M43.3,868 L43.32,868 L43.33,868 L43.33,868 L43.32,867.99 L43.3,867.98 L43.27,867.97 L43.25,867.96 L43.22,867.95 L43.2,867.94 L43.18,867.93 L43.17,867.92 L43.17,867.91 L43.18,867.91 L43.21,867.91 L43.25,867.91 L43.31,867.92 L43.4,867.93 L43.5,867.95 L43.64,867.97 L43.8,868 L44,868.04 L44.23,868.08 L44.5,868.14 L44.8,868.2 L45.15,868.27 L45.53,868.34 L45.96,868.41 L46.42,868.48 L46.91,868.56 L47.43,868.64 L47.98,868.73 L48.56,868.81 L49.16,868.91 L49.77,869.01 L50.4,869.11 L51.05,869.23 L51.71,869.34 L52.37,869.47 L53.04,869.6 L53.72,869.74 L54.39,869.89 L55.07,870.05 L55.73,870.21 L56.39,870.39 L57.04,870.58 L57.68,870.77 L58.3,870.98 L58.88,871.19M72.58,878.73 L73.2,879 L73.82,879.25 L74.44,879.49 L75.06,879.73 L75.68,879.95 L76.31,880.17 L76.93,880.38 L77.56,880.58 L78.19,880.78 L78.82,880.97 L79.46,881.15 L80.09,881.34 L80.73,881.51 L81.37,881.69 L82.01,881.86 L82.65,882.02 L83.3,882.19 L83.94,882.35 L84.59,882.52 L85.24,882.68 L85.89,882.84 L86.54,883 L87.19,883.17 L87.84,883.33 L88.18,883.42M105.37,887.23 L106.05,887.36 L106.72,887.48 L107.39,887.6 L108.06,887.72 L108.73,887.84 L109.4,887.96 L110.07,888.07 L110.74,888.18 L111.4,888.29 L112.07,888.4 L112.74,888.51 L113.41,888.62 L114.09,888.73 L114.76,888.83 L115.43,888.94 L116.11,889.05 L116.79,889.15 L117.47,889.26 L118.15,889.37 L118.83,889.47 L119.52,889.58 L120.21,889.69 L120.9,889.8 L121.46,889.89M137.32,892.3 L138,892.4 L138.67,892.5 L139.33,892.59 L139.98,892.69 L140.63,892.78 L141.27,892.87 L141.91,892.95 L142.54,893.04 L143.17,893.13 L143.8,893.21 L144.42,893.29 L145.04,893.38 L145.66,893.46 L146.27,893.55 L146.89,893.63 L147.51,893.72 L148.13,893.81 L148.75,893.9 L149.37,893.99 L150,894.08 L150.63,894.18 L151.27,894.28 L151.9,894.38 L152.55,894.49 L153.2,894.6 L153.45,894.64M170.07,897.94 L170.73,898.09 L171.39,898.24 L172.05,898.39 L172.71,898.54 L173.37,898.69 L174.02,898.85 L174.68,899 L175.33,899.16 L175.99,899.32 L176.64,899.47 L177.29,899.63 L177.95,899.79 L178.61,899.94 L179.26,900.1 L179.92,900.25 L180.58,900.4 L181.25,900.55 L181.91,900.7 L182.58,900.85 L183.26,900.99 L183.93,901.13 L184.61,901.27 L185.3,901.4 L185.97,901.52M202.4,904.1 L203.07,904.27 L203.73,904.45 L204.39,904.63 L205.04,904.82 L205.69,905.02 L206.33,905.22 L206.97,905.42 L207.6,905.63 L208.23,905.85 L208.86,906.07 L209.49,906.29 L210.11,906.52 L210.73,906.75 L211.36,906.99 L211.98,907.22 L212.6,907.47 L213.22,907.71 L213.84,907.96 L214.46,908.21 L215.08,908.46 L215.71,908.72 L216.34,908.98 L216.97,909.24 L217.6,909.5 L217.74,909.56M233.54,917.02 L234.17,917.35 L234.81,917.68 L235.45,918.02 L236.09,918.36 L236.72,918.7 L237.36,919.05 L238,919.4 L238.64,919.75 L239.27,920.1 L239.91,920.45 L240.55,920.81 L241.19,921.16 L241.83,921.51 L242.46,921.85 L243.1,922.2 L243.74,922.54 L244.38,922.88 L245.01,923.21 L245.65,923.54 L246.29,923.87 L246.93,924.19 L247.56,924.5 L247.93,924.67M263,930.93 L263.5,931.1 L263.97,931.26 L264.42,931.4 L264.85,931.54 L265.25,931.66 L265.64,931.77 L266.01,931.86 L266.36,931.95 L266.7,932.03 L267.03,932.11 L267.35,932.17 L267.65,932.23 L267.95,932.28 L268.24,932.33 L268.53,932.37 L268.81,932.42 L269.1,932.46 L269.38,932.49 L269.66,932.53 L269.95,932.57 L270.25,932.61 L270.55,932.65 L270.85,932.7 L271.17,932.75 L271.5,932.8 L271.84,932.86 L272.17,932.91 L272.51,932.97 L272.84,933.02 L273.18,933.08 L273.51,933.13 L273.85,933.19 L274.18,933.24 L274.52,933.29 L274.85,933.34 L275.19,933.39 L275.52,933.43 L275.86,933.48 L276.2,933.52 L276.54,933.56 L276.87,933.6 L277.21,933.63 L277.55,933.66 L277.89,933.7 L278.23,933.72 L278.57,933.75 L278.91,933.77 L279.01,933.77M296.22,932.19 L296.7,932.1 L297.2,932 L297.72,931.9 L298.26,931.8 L298.83,931.71 L299.41,931.61 L300,931.52 L300.62,931.42 L301.24,931.33 L301.88,931.23 L302.53,931.12 L303.19,931.01 L303.85,930.9 L304.52,930.78 L305.2,930.65 L305.88,930.52 L306.56,930.37 L307.24,930.22 L307.92,930.05 L308.6,929.87 L309.27,929.68 L309.93,929.48 L310.59,929.26 L311.24,929.02 L311.87,928.77 L312.09,928.68M326.35,919.04 L326.9,918.6 L327.44,918.17 L327.97,917.74 L328.5,917.31 L329.02,916.88 L329.53,916.46 L330.04,916.03 L330.54,915.6 L331.04,915.17 L331.53,914.73 L332.02,914.3 L332.5,913.86 L332.98,913.42 L333.46,912.98 L333.93,912.54 L334.4,912.09 L334.86,911.63 L335.33,911.17 L335.79,910.71 L336.24,910.24 L336.7,909.77 L337.15,909.29 L337.6,908.8 L338.05,908.3 L338.32,908M348.4,894.3 L348.84,893.76 L349.28,893.22 L349.73,892.69 L350.18,892.17 L350.64,891.65 L351.1,891.13 L351.57,890.61 L352.03,890.1 L352.5,889.59 L352.97,889.08 L353.44,888.57 L353.91,888.06 L354.38,887.54 L354.85,887.03 L355.31,886.52 L355.77,886 L356.22,885.48 L356.67,884.96 L357.11,884.43 L357.55,883.89 L357.97,883.35 L358.39,882.81 L358.8,882.26 L359.02,881.95M367.7,866.72 L368.1,866.16 L368.51,865.6 L368.92,865.05 L369.34,864.5 L369.77,863.96 L370.2,863.43 L370.63,862.9 L371.07,862.36 L371.52,861.83 L371.97,861.3 L372.42,860.77 L372.88,860.23 L373.34,859.69 L373.8,859.15 L374.27,858.59 L374.74,858.03 L375.21,857.46 L375.69,856.88 L376.16,856.29 L376.65,855.69 L377.13,855.08 L377.61,854.45 L377.92,854.04M387.37,840.54 L387.89,839.79 L388.4,839.06 L388.89,838.37 L389.37,837.7 L389.83,837.06 L390.28,836.46 L390.7,835.9 L391.1,835.38 L391.49,834.9 L391.85,834.46 L392.2,834.06 L392.54,833.68 L392.86,833.33 L393.17,833.01 L393.47,832.71 L393.76,832.42 L394.04,832.15 L394.31,831.89 L394.58,831.63 L394.85,831.38 L395.11,831.13 L395.37,830.87 L395.63,830.6 L395.9,830.33 L396.16,830.04 L396.43,829.73 L396.71,829.4 L396.99,829.05 L397.29,828.66 L397.59,828.25 L397.75,828.02M406.31,812.81 L406.62,812.22 L406.92,811.63 L407.23,811.04 L407.52,810.46 L407.82,809.88 L408.12,809.3 L408.41,808.72 L408.7,808.14 L408.99,807.57 L409.27,806.99 L409.56,806.41 L409.84,805.82 L410.12,805.24 L410.4,804.66 L410.68,804.07 L410.96,803.47 L411.24,802.88 L411.52,802.28 L411.79,801.67 L412.07,801.06 L412.35,800.45 L412.62,799.83 L412.9,799.2 L413.18,798.56 L413.37,798.12M419.76,781.8 L419.98,781.16 L420.19,780.52 L420.4,779.89 L420.61,779.25 L420.82,778.62 L421.02,778 L421.22,777.37 L421.41,776.74 L421.61,776.12 L421.8,775.49 L421.99,774.87 L422.18,774.24 L422.37,773.61 L422.56,772.98 L422.75,772.35 L422.94,771.71 L423.13,771.07 L423.32,770.43 L423.51,769.78 L423.71,769.12 L423.9,768.47 L424.1,767.8 L424.3,767.13 L424.5,766.45 L424.57,766.23M429.08,750.34 L429.27,749.68 L429.45,749.03 L429.63,748.38 L429.8,747.74 L429.98,747.11 L430.15,746.48 L430.32,745.85 L430.49,745.22 L430.66,744.6 L430.83,743.98 L431,743.36 L431.17,742.73 L431.33,742.11 L431.5,741.49 L431.67,740.86 L431.83,740.23 L432,739.6 L432.16,738.97 L432.33,738.33 L432.5,737.68 L432.66,737.03 L432.83,736.37 L433,735.7 L433.17,735.03 L433.28,734.58M437,718.8 L437.18,718.13 L437.37,717.47 L437.56,716.82 L437.75,716.18 L437.95,715.54 L438.14,714.9 L438.34,714.27 L438.54,713.64 L438.74,713.02 L438.94,712.39 L439.15,711.77 L439.35,711.15 L439.55,710.53 L439.76,709.91 L439.96,709.28 L440.17,708.66 L440.38,708.03 L440.58,707.4 L440.79,706.76 L440.99,706.12 L441.19,705.48 L441.4,704.83 L441.6,704.17 L441.8,703.5 L441.87,703.25M446.6,686.6 L446.8,685.93 L447.01,685.25 L447.22,684.58 L447.43,683.9 L447.64,683.21 L447.85,682.53 L448.06,681.85 L448.28,681.17 L448.49,680.5 L448.71,679.83 L448.92,679.16 L449.13,678.5 L449.34,677.85 L449.55,677.2 L449.76,676.56 L449.97,675.94 L450.17,675.32 L450.37,674.72 L450.57,674.13 L450.76,673.55 L450.95,672.99 L451.14,672.44 L451.32,671.91 L451.5,671.4 L451.61,671.09M458.7,655.3 L458.83,655.08 L458.96,654.86 L459.09,654.65 L459.22,654.45 L459.34,654.26 L459.46,654.08 L459.58,653.9 L459.7,653.73 L459.82,653.57 L459.93,653.41 L460.04,653.26 L460.16,653.11 L460.27,652.96 L460.38,652.82 L460.49,652.68 L460.6,652.54 L460.71,652.41 L460.82,652.28 L460.93,652.15 L461.04,652.02 L461.16,651.89 L461.27,651.76 L461.38,651.63 L461.5,651.5 L461.62,651.37 L461.73,651.24 L461.85,651.12 L461.97,650.99 L462.09,650.87 L462.2,650.75 L462.32,650.63 L462.44,650.51 L462.55,650.4 L462.67,650.29 L462.79,650.18 L462.91,650.08 L463.02,649.97 L463.14,649.87 L463.26,649.77 L463.37,649.67 L463.49,649.58 L463.61,649.49 L463.72,649.4 L463.84,649.31 L463.95,649.23 L464.07,649.15 L464.19,649.07 L464.3,649 L464.41,648.93 L464.53,648.86 L464.64,648.79 L464.76,648.73 L464.87,648.67 L464.99,648.61 L465.1,648.56 L465.21,648.51 L465.33,648.46 L465.44,648.41 L465.56,648.37 L465.67,648.33 L465.78,648.29 L465.89,648.25 L466.01,648.21 L466.12,648.18 L466.23,648.15 L466.34,648.12 L466.45,648.1 L466.56,648.07 L466.67,648.05 L466.78,648.03 L466.89,648.02 L467,648 L467.11,647.99 L467.22,647.98 L467.32,647.97 L467.43,647.96 L467.53,647.95 L467.64,647.95 L467.74,647.95 L467.85,647.95 L467.95,647.96 L468.06,647.96 L468.16,647.97 L468.26,647.98 L468.37,647.99 L468.47,648.01 L468.57,648.03 L468.67,648.05 L468.78,648.07 L468.88,648.1 L468.98,648.12 L469.09,648.15 L469.19,648.19 L469.29,648.22 L469.4,648.26 L469.5,648.3 L469.6,648.34 L469.71,648.38 L469.81,648.43 L469.91,648.47 L470.01,648.51 L470.11,648.56 L470.21,648.61 L470.31,648.66 L470.42,648.71 L470.52,648.77 L470.62,648.83 L470.72,648.89 L470.82,648.95 L470.92,649.02 L471.03,649.1 L471.13,649.17 L471.23,649.26 L471.34,649.35 L471.45,649.44 L471.51,649.5M480.4,664.1 L480.59,664.46 L480.77,664.82 L480.94,665.17 L481.11,665.52 L481.28,665.87 L481.45,666.21 L481.61,666.54 L481.76,666.88 L481.92,667.21 L482.07,667.54 L482.22,667.86 L482.36,668.19 L482.51,668.51 L482.65,668.83 L482.79,669.15 L482.93,669.47 L483.06,669.78 L483.2,670.1 L483.33,670.42 L483.47,670.73 L483.6,671.05 L483.73,671.36 L483.87,671.68 L484,672 L484.13,672.31 L484.26,672.61 L484.39,672.89 L484.51,673.16 L484.63,673.42 L484.75,673.68 L484.86,673.93 L484.98,674.18 L485.09,674.43 L485.2,674.68 L485.31,674.93 L485.43,675.19 L485.54,675.45 L485.65,675.73 L485.76,676.01 L485.87,676.31 L485.98,676.62 L486.09,676.95 L486.2,677.3 L486.32,677.67 L486.44,678.06 L486.56,678.48 L486.68,678.93 L486.72,679.1M490.35,696.84 L490.54,697.51 L490.74,698.18 L490.94,698.86 L491.15,699.53 L491.36,700.2 L491.57,700.87 L491.79,701.54 L492.01,702.21 L492.23,702.88 L492.45,703.56 L492.67,704.23 L492.89,704.9 L493.11,705.57 L493.33,706.24 L493.54,706.91 L493.75,707.58 L493.96,708.25 L494.16,708.92 L494.36,709.59 L494.55,710.26 L494.73,710.93 L494.9,711.6 L495.07,712.27 L495.1,712.43M498.25,728.29 L498.41,728.98 L498.57,729.68 L498.73,730.38 L498.89,731.09 L499.06,731.8 L499.23,732.51 L499.4,733.23 L499.58,733.94 L499.75,734.66 L499.93,735.38 L500.1,736.09 L500.27,736.81 L500.45,737.53 L500.62,738.24 L500.8,738.95 L500.97,739.66 L501.14,740.37 L501.31,741.07 L501.47,741.77 L501.63,742.46 L501.79,743.14 L501.95,743.83 L502.02,744.15M505.54,760.91 L505.66,761.43 L505.78,761.95 L505.89,762.44 L506,762.93 L506.12,763.41 L506.23,763.88 L506.34,764.35 L506.45,764.81 L506.55,765.27 L506.66,765.73 L506.77,766.19 L506.88,766.66 L506.99,767.14 L507.1,767.62 L507.21,768.11 L507.32,768.61 L507.43,769.13 L507.54,769.67 L507.65,770.22 L507.77,770.79 L507.88,771.38 L508,772 L508.12,772.64 L508.24,773.32 L508.36,774.01 L508.48,774.73 L508.61,775.47 L508.73,776.23 L508.83,776.87M511.76,793.52 L511.89,794.06 L512.02,794.59 L512.15,795.12 L512.28,795.63 L512.41,796.13 L512.54,796.62 L512.67,797.11 L512.79,797.59 L512.92,798.06 L513.04,798.52 L513.17,798.97 L513.29,799.42 L513.41,799.86 L513.53,800.3 L513.65,800.73 L513.77,801.16 L513.89,801.58 L514,802 L514.11,802.4 L514.22,802.78 L514.33,803.14 L514.44,803.48 L514.55,803.8 L514.66,804.11 L514.76,804.4 L514.87,804.69 L514.97,804.96 L515.08,805.24 L515.18,805.51 L515.28,805.78 L515.38,806.06 L515.48,806.34 L515.58,806.63 L515.67,806.93 L515.77,807.24 L515.86,807.57 L515.96,807.91 L516.05,808.28 L516.14,808.67 L516.23,809.08 L516.24,809.17M518.1,825.5 L518.23,826.14 L518.37,826.78 L518.52,827.41 L518.67,828.04 L518.84,828.67 L519.01,829.3 L519.19,829.93 L519.37,830.55 L519.56,831.18 L519.75,831.8 L519.95,832.43 L520.14,833.06 L520.34,833.69 L520.54,834.32 L520.73,834.95 L520.93,835.59 L521.12,836.24 L521.3,836.88 L521.49,837.54 L521.66,838.2 L521.83,838.86 L522,839.53 L522.15,840.21 L522.3,840.9 L522.36,841.22M524.75,858 L524.9,858.7 L525.07,859.39 L525.25,860.06 L525.43,860.73 L525.63,861.4 L525.84,862.06 L526.06,862.71 L526.28,863.35 L526.51,864 L526.74,864.63 L526.97,865.27 L527.21,865.9 L527.45,866.53 L527.69,867.15 L527.93,867.77 L528.16,868.39 L528.39,869.01 L528.62,869.63 L528.84,870.25 L529.06,870.88 L529.27,871.5 L529.47,872.12 L529.65,872.74 L529.83,873.37 L529.86,873.47M532.98,890.37 L533.19,891.07 L533.4,891.78 L533.63,892.49 L533.86,893.21 L534.1,893.94 L534.35,894.67 L534.61,895.4 L534.86,896.14 L535.13,896.88 L535.39,897.62 L535.66,898.37 L535.93,899.11 L536.2,899.86 L536.47,900.6 L536.74,901.34 L537,902.08 L537.27,902.81 L537.52,903.54 L537.78,904.27 L538.03,904.98 L538.27,905.7 L538.29,905.78M543.36,921.98 L543.6,922.6 L543.85,923.22 L544.11,923.84 L544.38,924.46 L544.66,925.08 L544.94,925.69 L545.23,926.31 L545.53,926.92 L545.82,927.52 L546.12,928.12 L546.42,928.72 L546.73,929.31 L547.03,929.89 L547.33,930.47 L547.64,931.04 L547.94,931.6 L548.23,932.16 L548.53,932.7 L548.81,933.23 L549.1,933.76 L549.37,934.27 L549.64,934.77 L549.9,935.26 L550.16,935.74 L550.4,936.2 L550.59,936.57M559.28,950.24 L559.47,950.45 L559.66,950.67 L559.85,950.88 L560.05,951.1 L560.24,951.31 L560.44,951.53 L560.64,951.74 L560.84,951.96 L561.05,952.17 L561.26,952.39 L561.47,952.6 L561.68,952.82 L561.9,953.03 L562.11,953.25 L562.34,953.46 L562.56,953.68 L562.79,953.9 L563.03,954.12 L563.26,954.34 L563.5,954.56 L563.75,954.78 L564,955 L564.25,955.22 L564.51,955.45 L564.77,955.68 L565.03,955.92 L565.3,956.16 L565.57,956.39 L565.84,956.63 L566.12,956.87 L566.4,957.12 L566.68,957.36 L566.97,957.6 L567.26,957.84 L567.55,958.08 L567.85,958.31 L568.15,958.55 L568.45,958.78 L568.75,959.01 L569.06,959.24 L569.38,959.46 L569.7,959.68 L570.02,959.89 L570.34,960.1 L570.67,960.3 L571,960.5 L571.34,960.69 L571.58,960.83M588.6,965.7 L589.12,965.73 L589.67,965.75 L590.24,965.77 L590.83,965.79 L591.43,965.81 L592.05,965.82 L592.69,965.84 L593.34,965.84 L594.01,965.85 L594.69,965.85 L595.37,965.86 L596.07,965.86 L596.77,965.85 L597.48,965.85 L598.19,965.84 L598.91,965.83 L599.63,965.82 L600.35,965.81 L601.07,965.8 L601.78,965.78 L602.5,965.76 L603.2,965.74 L603.91,965.72 L604.6,965.7 L604.9,965.69M621.7,964.6 L622.39,964.49 L623.07,964.36 L623.75,964.22 L624.43,964.07 L625.11,963.91 L625.78,963.74 L626.45,963.57 L627.11,963.39 L627.78,963.2 L628.44,963.01 L629.11,962.82 L629.77,962.62 L630.43,962.43 L631.09,962.23 L631.75,962.04 L632.41,961.84 L633.07,961.65 L633.73,961.47 L634.39,961.29 L635.05,961.11 L635.71,960.95 L636.37,960.79 L637.03,960.64 L637.48,960.55M654.36,958.12 L655.03,958.04 L655.68,957.97 L656.34,957.89 L656.99,957.82 L657.65,957.75 L658.3,957.68 L658.95,957.61 L659.6,957.55 L660.25,957.48 L660.9,957.42 L661.56,957.36 L662.21,957.29 L662.87,957.23 L663.53,957.17 L664.2,957.11 L664.87,957.05 L665.54,956.98 L666.22,956.92 L666.9,956.86 L667.59,956.8 L668.29,956.73 L668.99,956.67 L669.7,956.6 L670.42,956.53 L670.59,956.52M687.3,955.07 L688,955 L688.69,954.93 L689.38,954.85 L690.07,954.78 L690.76,954.7 L691.44,954.63 L692.12,954.55 L692.8,954.47 L693.47,954.4 L694.14,954.32 L694.79,954.24 L695.44,954.16 L696.09,954.08 L696.72,954 L697.35,953.92 L697.96,953.84 L698.56,953.76 L699.15,953.68 L699.73,953.6 L700.3,953.51 L700.85,953.43 L701.39,953.35 L701.91,953.27 L702.41,953.18 L702.9,953.1 L703.37,953.02 L703.46,953M719.39,947.86 L719.91,947.59 L720.46,947.3 L721.04,946.98 L721.64,946.66 L722.27,946.31 L722.91,945.95 L723.56,945.58 L724.23,945.2 L724.91,944.82 L725.59,944.42 L726.27,944.03 L726.96,943.64 L727.64,943.24 L728.32,942.86 L728.99,942.47 L729.65,942.1 L730.3,941.74 L730.92,941.39 L731.53,941.05 L732.11,940.73 L732.67,940.43 L733.2,940.15 L733.63,939.93M750.22,936.83 L750.77,936.99 L751.36,937.16 L751.99,937.36 L752.64,937.57 L753.32,937.79 L754.02,938.03 L754.74,938.29 L755.47,938.55 L756.22,938.81 L756.97,939.09 L757.73,939.36 L758.48,939.64 L759.23,939.92 L759.97,940.19 L760.7,940.46 L761.42,940.72 L762.12,940.98 L762.79,941.22 L763.44,941.45 L764.06,941.66 L764.64,941.86 L765.19,942.04 L765.61,942.17M781.87,941.55 L782.04,941.4 L782.21,941.24 L782.38,941.06 L782.55,940.89 L782.73,940.7 L782.9,940.51 L783.08,940.31 L783.26,940.1 L783.43,939.89 L783.61,939.67 L783.79,939.45 L783.97,939.22 L784.16,938.99 L784.34,938.75 L784.52,938.51 L784.71,938.27 L784.89,938.03 L785.07,937.78 L785.26,937.52 L785.44,937.27 L785.63,937.01 L785.81,936.76 L786,936.5 L786.19,936.25 L786.37,936 L786.55,935.76 L786.74,935.53 L786.92,935.3 L787.1,935.07 L787.29,934.84 L787.47,934.61 L787.65,934.38 L787.84,934.14 L788.03,933.89 L788.21,933.64 L788.4,933.37 L788.59,933.1 L788.78,932.81 L788.97,932.5 L789.17,932.18 L789.37,931.84 L789.56,931.47 L789.77,931.09 L789.97,930.68 L790.18,930.25 L790.39,929.79 L790.6,929.3 L790.82,928.78 L791.04,928.22 L791.04,928.21M796.3,912.3 L796.52,911.64 L796.75,910.99 L796.98,910.35 L797.21,909.72 L797.44,909.09 L797.67,908.48 L797.9,907.86 L798.13,907.26 L798.35,906.65 L798.58,906.05 L798.8,905.45 L799.02,904.85 L799.24,904.25 L799.46,903.65 L799.67,903.05 L799.87,902.44 L800.07,901.84 L800.27,901.22 L800.46,900.61 L800.64,899.98 L800.82,899.35 L800.99,898.71 L801.15,898.06 L801.3,897.4 L801.42,896.84M803.5,879.82 L803.59,879.26 L803.69,878.72 L803.78,878.2 L803.88,877.7 L803.97,877.21 L804.06,876.73 L804.16,876.26 L804.25,875.81 L804.35,875.36 L804.45,874.92 L804.55,874.48 L804.65,874.05 L804.76,873.62 L804.86,873.18 L804.97,872.75 L805.09,872.31 L805.2,871.87 L805.33,871.42 L805.45,870.96 L805.58,870.49 L805.72,870.01 L805.85,869.51 L806,869 L806.15,868.47 L806.31,867.92 L806.49,867.35 L806.66,866.77 L806.85,866.17 L807.04,865.56 L807.23,864.94 L807.43,864.32 L807.64,863.7 L807.84,863.07 L808.05,862.44 L808.26,861.82 L808.46,861.2 L808.67,860.59 L808.88,860 L809.08,859.41 L809.28,858.84 L809.47,858.29 L809.66,857.76 L809.84,857.25 L810.02,856.77 L810.19,856.32 L810.35,855.89 L810.38,855.82M819.9,851.01 L820,851.24 L820.11,851.49 L820.21,851.75 L820.33,852.02 L820.44,852.31 L820.56,852.61 L820.68,852.92 L820.8,853.23 L820.92,853.56 L821.04,853.89 L821.17,854.22 L821.29,854.57 L821.42,854.91 L821.54,855.26 L821.66,855.61 L821.79,855.96 L821.91,856.31 L822.03,856.65 L822.15,857 L822.27,857.34 L822.39,857.67 L822.5,858 L822.61,858.32 L822.72,858.63 L822.83,858.93 L822.94,859.23 L823.05,859.52 L823.15,859.8 L823.26,860.09 L823.36,860.37 L823.47,860.66 L823.57,860.95 L823.68,861.24 L823.78,861.54 L823.89,861.85 L823.99,862.17 L824.1,862.5 L824.2,862.84 L824.31,863.19 L824.42,863.56 L824.53,863.95 L824.64,864.36 L824.75,864.78 L824.87,865.23 L824.98,865.7 L825.1,866.2 L825.15,866.42M828.36,883.18 L828.52,883.86 L828.7,884.54 L828.87,885.22 L829.06,885.9 L829.24,886.58 L829.43,887.25 L829.63,887.93 L829.82,888.61 L830.02,889.29 L830.22,889.97 L830.41,890.65 L830.61,891.33 L830.8,892.01 L831,892.69 L831.19,893.37 L831.37,894.05 L831.55,894.72 L831.73,895.4 L831.9,896.08 L832.06,896.76 L832.21,897.44 L832.36,898.12 L832.5,898.8 L832.52,898.93M834.6,915.1 L834.75,915.76 L834.92,916.42 L835.09,917.07 L835.27,917.72 L835.47,918.37 L835.66,919.02 L835.87,919.66 L836.08,920.3 L836.3,920.94 L836.52,921.58 L836.74,922.22 L836.97,922.86 L837.2,923.5 L837.43,924.14 L837.66,924.78 L837.89,925.42 L838.11,926.07 L838.34,926.72 L838.56,927.37 L838.78,928.03 L838.99,928.69 L839.2,929.35 L839.4,930.02 L839.57,930.61M843.8,947.7 L843.96,948.19 L844.12,948.65 L844.28,949.08 L844.44,949.49 L844.6,949.87 L844.75,950.23 L844.9,950.57 L845.06,950.89 L845.21,951.2 L845.36,951.49 L845.51,951.76 L845.66,952.02 L845.81,952.28 L845.96,952.53 L846.11,952.77 L846.26,953.01 L846.41,953.24 L846.56,953.48 L846.71,953.72 L846.87,953.96 L847.02,954.21 L847.18,954.46 L847.34,954.72 L847.5,955 L847.66,955.28 L847.82,955.56 L847.98,955.83 L848.15,956.11 L848.31,956.38 L848.47,956.65 L848.63,956.92 L848.79,957.18 L848.95,957.45 L849.11,957.71 L849.28,957.97 L849.44,958.23 L849.61,958.48 L849.78,958.74 L849.95,958.99 L850.12,959.24 L850.3,959.49 L850.47,959.74 L850.65,959.99 L850.84,960.23 L851.02,960.48 L851.21,960.72 L851.4,960.96 L851.6,961.2 L851.8,961.44 L852,961.68 L852.01,961.69M865.9,971.06 L865.98,971.08 L866.33,971.19 L866.7,971.3 L867.06,971.41 L867.44,971.52 L867.81,971.62 L868.2,971.72 L868.59,971.82 L868.99,971.92 L869.4,972.01 L869.81,972.1 L870.23,972.19 L870.66,972.27 L871.1,972.35 L871.55,972.43 L872,972.5 L872.34,972.57 L872.46,972.63 L872.39,972.69 L872.18,972.75 L871.84,972.8 L871.41,972.85 L870.92,972.9 L870.41,972.94 L869.9,972.99 L869.44,973.02 L869.04,973.06 L868.75,973.09 L868.59,973.13 L868.61,973.16 L868.82,973.18 L869.26,973.21 L869.97,973.24 L870.97,973.26 L872.3,973.29 L873.99,973.31 L874.2,973.31M891.19,973.43 L893.95,973.44 L899.48,973.46 L905.61,973.48 L907.49,973.48M924.49,973.51 L926.97,973.52 L934.85,973.53 L940.79,973.53M957.79,973.55 L959.79,973.55 L968.31,973.56 L974.09,973.56M991.09,973.57 L993.53,973.57 L1001.59,973.57 L1007.39,973.58M1024.39,973.58 L1030.29,973.59 L1036.23,973.59 L1040.69,973.59" fill="none" stroke="#000" stroke-width="3.4"/>
<path d="M44.8,952.5 L48.81,953.8 L57.94,955.4 L67.06,950 L76.19,945.5 L85.32,942.8 L94.44,945.5 L103.57,941 L112.7,935.6 L121.82,935.6 L130.95,929 L140.08,913 L149.21,897.5 L158.33,865 L167.46,839.5 L176.59,832.5 L185.71,818 L194.84,820.6 L203.97,813.4 L213.09,845.7 L222.22,861.9 L231.35,870.9 L240.48,862.8 L249.6,894.2 L258.73,915.3 L267.86,908.2 L276.98,906.8 L286.11,888 L295.24,851 L304.36,801 L313.49,794.4 L322.62,723.2 L331.75,712.6 L340.87,732.3 L350,648.3 L359.13,695 L368.25,723.2 L377.38,778 L386.51,833 L395.63,890 L404.76,908.5 L413.89,937.9 L423.01,930.2 L432.14,917.4 L441.27,922 L450.4,926.8 L459.52,926.8 L468.65,912.3 L477.78,923.4 L486.9,922.9 L496.03,932 L505.16,940.5 L514.29,939.6 L523.41,948.5 L532.54,944.3 L541.67,945 L550.79,956 L559.92,964.3 L569.05,963.3 L578.17,967 L587.3,969 L596.43,971 L605.56,970.5 L614.68,971 L623.81,972.3 L632.94,972.8 L642.06,972.8 L651.19,972.8 L660.32,972.8 L669.44,972.8 L678.57,972.8 L687.7,972.8 L696.83,972.8 L705.95,972.8 L715.08,972.8 L724.21,972.8 L733.33,972.8 L742.46,972.8 L751.59,972.8 L760.71,972.8 L769.84,972.8 L778.97,972 L788.1,970.3 L797.22,969.7 L806.35,963 L815.48,958.4 L824.6,955 L833.73,946.5 L842.86,940 L851.98,920 L861.11,906.5 L870.24,909.5 L879.37,910.3 L888.49,925 L897.62,934 L906.75,941.5 L915.87,956.5 L925,963.8 L934.13,966.5 L943.25,972 L952.38,973.2 L961.51,973.2 L970.64,973.2 L979.76,973.2 L988.89,973.2 L998.02,973.2 L1007.14,973.2 L1016.27,973.2 L1025.4,973.2 L1034.52,973.2 L1043.65,973.2 L1052.78,973.2 L1061.91,973.2" fill="none" stroke="#000" stroke-width="3.4" stroke-linejoin="round"/>
<path d="M203.97,972.9 L208.53,972.9 L213.09,972.9 L217.66,972.9 L222.22,972.9 L226.78,972.9 L231.35,972.89 L235.91,972.88 L240.48,972.86 L245.04,972.81 L249.6,972.73 L254.17,972.58 L258.73,972.31 L263.29,971.85 L267.86,971.08 L272.42,969.82 L276.98,967.83 L281.55,964.8 L286.11,960.31 L290.67,953.88 L295.24,944.94 L299.8,932.95 L304.36,917.39 L308.93,897.91 L313.49,874.39 L318.05,847.07 L322.62,816.62 L327.18,784.17 L331.75,751.28 L336.31,719.86 L340.87,691.98 L345.44,669.65 L350,654.6 L354.56,648.04 L359.13,650.51 L363.69,661.81 L368.25,681.02 L372.82,706.62 L377.38,736.69 L381.94,769.16 L386.51,802.03 L391.07,833.55 L395.63,862.41 L400.2,887.71 L404.76,909.03 L409.32,926.34 L413.89,939.9 L418.45,950.16 L423.01,957.66 L427.58,962.97 L432.14,966.61 L436.71,969.02 L441.27,970.58 L445.83,971.55 L450.4,972.13 L454.96,972.48 L459.52,972.67 L464.09,972.78 L468.65,972.84 L473.21,972.87 L477.78,972.89 L482.34,972.89 L486.9,972.9 L491.47,972.9 L496.03,972.9 L500.59,972.9 L505.16,972.9 L509.72,972.9 L514.29,972.9 L518.85,972.9 L523.41,972.9 L527.98,972.9 L532.54,972.9 L537.1,972.9 L541.67,972.9 L546.23,972.9" fill="none" stroke="#c40000" stroke-width="3.4"/>
</g>
<text x="546.5" y="1050" text-anchor="middle" font-size="33">Wavelength (nm)</text>
<text transform="translate(24.2,759.5) rotate(-90)" text-anchor="middle" font-size="33">Absorption (norm.)</text>
<text x="90.5" y="595.7" font-size="33">(b) ChlB</text>
<rect x="451" y="24.4" width="84" height="39.5" fill="#000088"/>
<text x="543" y="43" font-size="27">Q<tspan font-size="23.5" dy="13.5">y</tspan></text>
<rect x="451" y="75.6" width="84" height="39.5" fill="#508cff"/>
<text x="543" y="94.2" font-size="27">Q<tspan font-size="23.5" dy="13.5">x</tspan></text>
<rect x="451" y="126.8" width="84" height="39.5" fill="#b8ff7b"/>
<text x="543" y="145.4" font-size="27">B<tspan font-size="23.5" dy="13.5">1</tspan></text>
<rect x="451" y="178" width="84" height="39.5" fill="#de6e18"/>
<text x="543" y="196.6" font-size="27">B<tspan font-size="23.5" dy="13.5">2</tspan></text>
<rect x="451" y="229.2" width="84" height="39.5" fill="#6e0402"/>
<text x="543" y="247.8" font-size="27">B<tspan font-size="23.5" dy="13.5">3</tspan></text>
<line x1="628.6" y1="38.1" x2="711.5" y2="38.1" stroke="#000" stroke-width="3.3" stroke-dasharray="17 16.3"/>
<line x1="628.6" y1="78.4" x2="711.5" y2="78.4" stroke="#000" stroke-width="3.3"/>
<line x1="628.6" y1="118.6" x2="711.5" y2="118.6" stroke="#c40000" stroke-width="3.3"/>
<text x="720.3" y="48.6" font-size="27.8">Exp. (EtOH)</text>
<text x="720.3" y="88.7" font-size="27.8">Total</text>
<text x="720.3" y="129" font-size="27.8">Pulse</text>
</g>
</svg>
</body></html>
